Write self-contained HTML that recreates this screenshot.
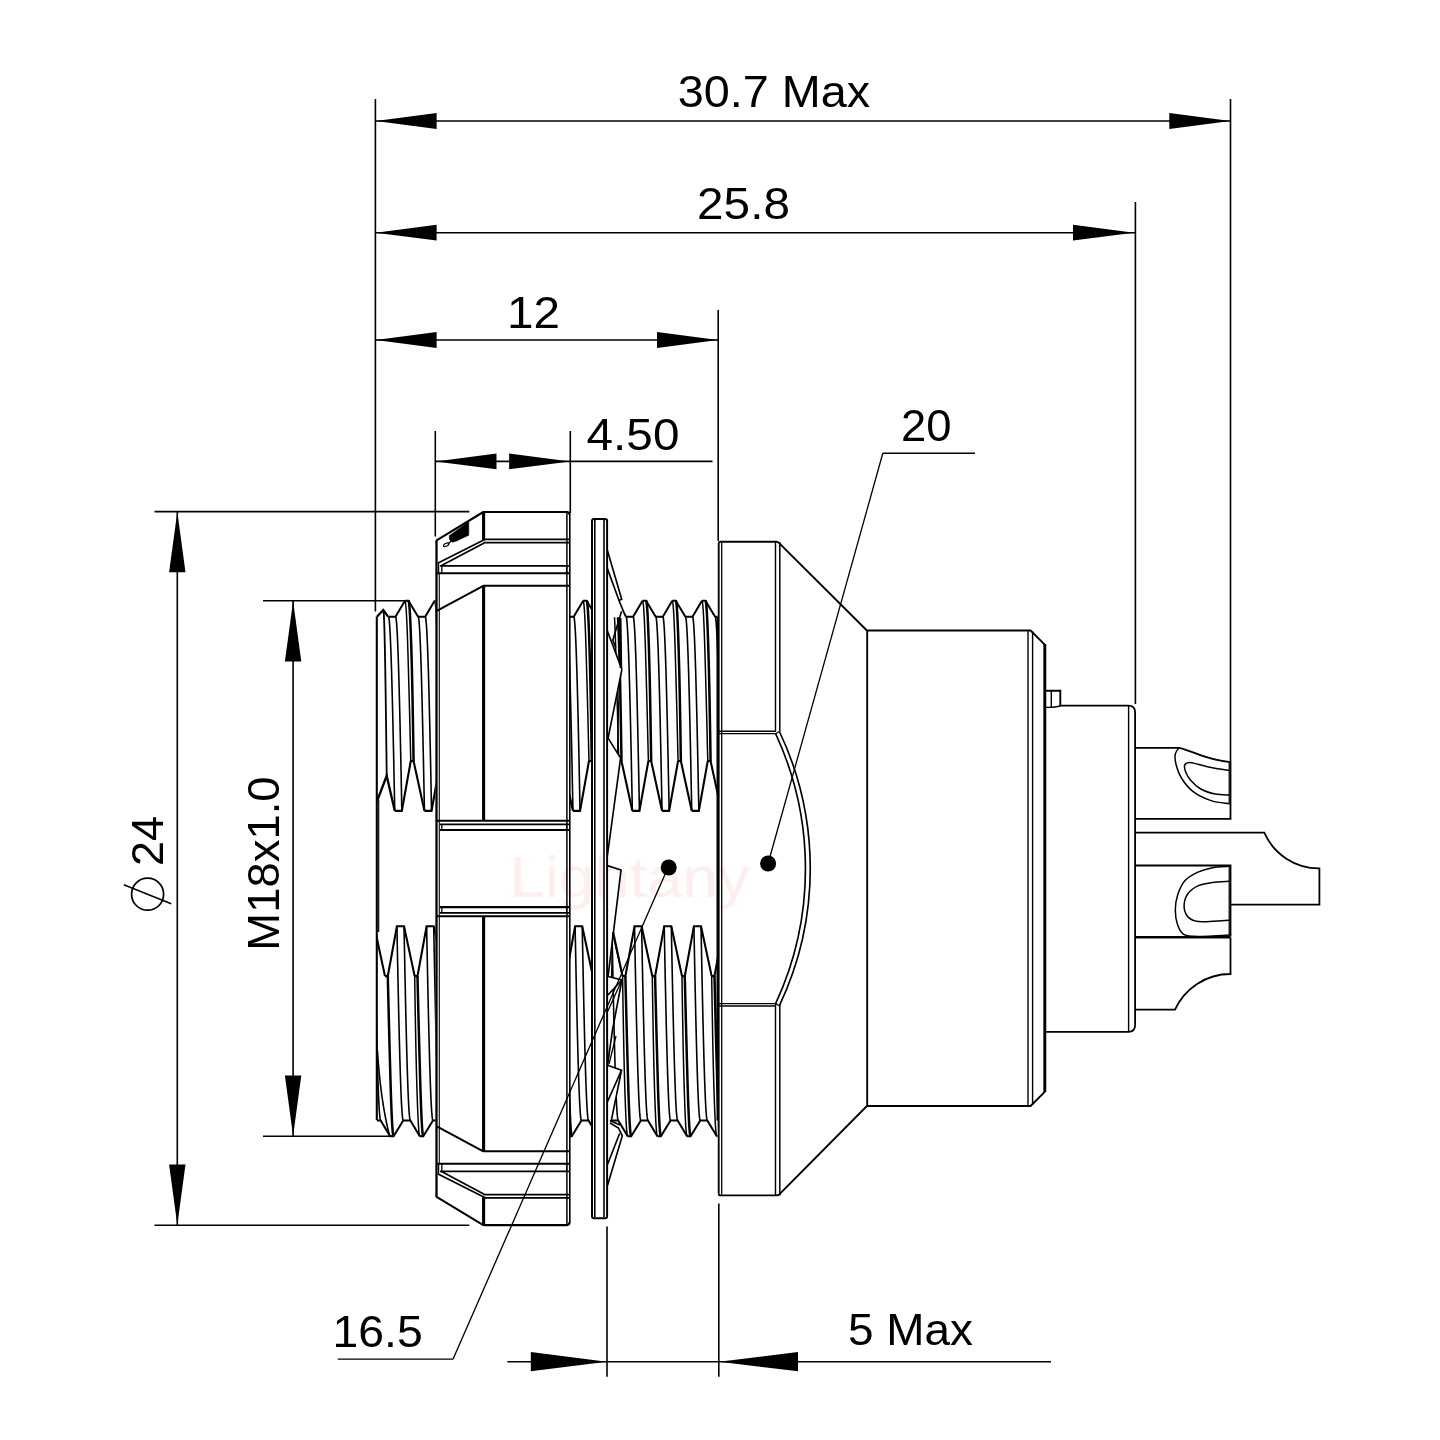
<!DOCTYPE html>
<html><head><meta charset="utf-8"><title>Connector drawing</title>
<style>
html,body{margin:0;padding:0;background:#fff;}
body{width:1440px;height:1440px;overflow:hidden;}
svg{display:block;font-family:"Liberation Sans",sans-serif;}
svg *{stroke-linecap:butt;stroke-linejoin:miter;}
</style></head><body>
<svg width="1440" height="1440" viewBox="0 0 1440 1440" stroke="#000" fill="none">
<rect x="0" y="0" width="1440" height="1440" fill="#fff" stroke="none"/>
<defs>
<clipPath id="cpA"><rect x="377" y="590" width="59.5" height="560"/></clipPath>
<clipPath id="cpB"><rect x="570" y="590" width="22" height="560"/></clipPath>
<clipPath id="cpC"><rect x="607.3" y="590" width="110.2" height="560"/></clipPath>
</defs>
<g clip-path="url(#cpA)">
<path d="M315.85 600.8 L316.03 601 L316.21 601.6 L316.4 602.59 L316.58 603.98 L316.76 605.77 L316.94 607.94 L317.13 610.51 L317.31 613.45 L317.49 616.78 L317.67 620.48 L317.86 624.55 L318.04 628.99 L318.22 633.78 L318.4 638.92 L318.59 644.4 L318.77 650.22 L318.95 656.36 L319.13 662.81 L319.32 669.57 L319.52 676.63 L319.72 683.98 L319.93 691.6 L320.14 699.48 L320.35 707.61 L320.57 715.99 L320.78 724.59 L321 733.4 L321.22 742.42 L321.45 751.62 L321.67 761" stroke-width="1.5" fill="none"/>
<path d="M325.58 976.1 L325.72 985.48 L325.86 994.68 L326 1003.7 L326.15 1012.51 L326.3 1021.11 L326.45 1029.49 L326.6 1037.62 L326.76 1045.5 L326.91 1053.12 L327.08 1060.47 L327.24 1067.53 L327.42 1074.29 L327.6 1080.74 L327.78 1086.88 L327.96 1092.7 L328.15 1098.18 L328.33 1103.32 L328.51 1108.11 L328.69 1112.55 L328.88 1116.62 L329.06 1120.32 L329.24 1123.65 L329.42 1126.59 L329.61 1129.16 L329.79 1131.33 L329.97 1133.12 L330.15 1134.51 L330.34 1135.5 L330.52 1136.1 L330.7 1136.3" stroke-width="1.5" fill="none"/>
<path d="M319.35 600.8 L319.53 601 L319.71 601.6 L319.9 602.59 L320.08 603.98 L320.26 605.77 L320.44 607.94 L320.63 610.51 L320.81 613.45 L320.99 616.78 L321.17 620.48 L321.36 624.55 L321.54 628.99 L321.72 633.78 L321.9 638.92 L322.09 644.4 L322.27 650.22 L322.45 656.36 L322.63 662.81 L322.81 669.57 L322.97 676.63 L323.14 683.98 L323.29 691.6 L323.45 699.48 L323.6 707.61 L323.75 715.99 L323.9 724.59 L324.05 733.4 L324.19 742.42 L324.33 751.62 L324.47 761" stroke-width="2.5" fill="none"/>
<path d="M328.38 976.1 L328.6 985.48 L328.83 994.68 L329.05 1003.7 L329.27 1012.51 L329.48 1021.11 L329.7 1029.49 L329.91 1037.62 L330.12 1045.5 L330.33 1053.12 L330.53 1060.47 L330.73 1067.53 L330.92 1074.29 L331.1 1080.74 L331.28 1086.88 L331.46 1092.7 L331.65 1098.18 L331.83 1103.32 L332.01 1108.11 L332.19 1112.55 L332.38 1116.62 L332.56 1120.32 L332.74 1123.65 L332.92 1126.59 L333.11 1129.16 L333.29 1131.33 L333.47 1133.12 L333.65 1134.51 L333.84 1135.5 L334.02 1136.1 L334.2 1136.3" stroke-width="2.5" fill="none"/>
<path d="M329 616.65 L329.26 617.04 L329.53 618.22 L329.79 620.17 L330.06 622.9 L330.32 626.4 L330.58 630.65 L330.85 635.64 L331.11 641.35 L331.37 647.77 L331.64 654.88 L331.9 662.66 L332.17 671.08 L332.43 680.11 L332.69 689.73 L332.96 699.91 L333.22 710.61 L333.49 721.8 L333.75 733.45 L334.01 745.52 L334.28 757.98 L334.54 770.78 L334.8 783.88 L335.07 797.25 L335.33 810.84" stroke-width="1.6" fill="none"/>
<path d="M337.52 926.26 L337.78 939.85 L338.05 953.22 L338.31 966.32 L338.57 979.12 L338.84 991.58 L339.1 1003.65 L339.36 1015.3 L339.63 1026.49 L339.89 1037.19 L340.16 1047.37 L340.42 1056.99 L340.68 1066.02 L340.95 1074.44 L341.21 1082.22 L341.48 1089.33 L341.74 1095.75 L342 1101.46 L342.27 1106.45 L342.53 1110.7 L342.79 1114.2 L343.06 1116.93 L343.32 1118.88 L343.59 1120.06 L343.85 1120.45" stroke-width="1.6" fill="none"/>
<path d="M336.1 616.65 L336.36 617.04 L336.63 618.22 L336.89 620.17 L337.16 622.9 L337.42 626.4 L337.68 630.65 L337.95 635.64 L338.21 641.35 L338.47 647.77 L338.74 654.88 L339 662.66 L339.27 671.08 L339.53 680.11 L339.79 689.73 L340.06 699.91 L340.32 710.61 L340.59 721.8 L340.85 733.45 L341.11 745.52 L341.38 757.98 L341.64 770.78 L341.9 783.88 L342.17 797.25 L342.43 810.84" stroke-width="1.6" fill="none"/>
<path d="M344.62 926.26 L344.88 939.85 L345.15 953.22 L345.41 966.32 L345.67 979.12 L345.94 991.58 L346.2 1003.65 L346.46 1015.3 L346.73 1026.49 L346.99 1037.19 L347.26 1047.37 L347.52 1056.99 L347.78 1066.02 L348.05 1074.44 L348.31 1082.22 L348.58 1089.33 L348.84 1095.75 L349.1 1101.46 L349.37 1106.45 L349.63 1110.7 L349.89 1114.2 L350.16 1116.93 L350.42 1118.88 L350.69 1120.06 L350.95 1120.45" stroke-width="1.6" fill="none"/>
<path d="M315.85 600.8 L319.35 600.8 L329 616.65" stroke-width="2" fill="none"/>
<path d="M321.67 761 L324.47 761 L335.33 810.84" stroke-width="2.1" fill="none"/>
<path d="M329 616.65 L336.1 616.65 L345.55 600.8" stroke-width="2" fill="none"/>
<path d="M335.33 810.84 L342.43 810.84 L351.37 761" stroke-width="2.1" fill="none"/>
<path d="M330.7 1136.3 L334.2 1136.3 L343.85 1120.45 L350.95 1120.45 L360.4 1136.3" stroke-width="2" fill="none"/>
<path d="M325.58 976.1 L328.38 976.1 L337.52 926.26 L344.62 926.26 L355.28 976.1" stroke-width="2.1" fill="none"/>
<path d="M345.55 600.8 L345.73 601 L345.91 601.6 L346.1 602.59 L346.28 603.98 L346.46 605.77 L346.64 607.94 L346.83 610.51 L347.01 613.45 L347.19 616.78 L347.37 620.48 L347.56 624.55 L347.74 628.99 L347.92 633.78 L348.1 638.92 L348.29 644.4 L348.47 650.22 L348.65 656.36 L348.83 662.81 L349.02 669.57 L349.22 676.63 L349.42 683.98 L349.63 691.6 L349.84 699.48 L350.05 707.61 L350.27 715.99 L350.48 724.59 L350.7 733.4 L350.92 742.42 L351.15 751.62 L351.37 761" stroke-width="1.5" fill="none"/>
<path d="M355.28 976.1 L355.42 985.48 L355.56 994.68 L355.7 1003.7 L355.85 1012.51 L356 1021.11 L356.15 1029.49 L356.3 1037.62 L356.46 1045.5 L356.61 1053.12 L356.78 1060.47 L356.94 1067.53 L357.12 1074.29 L357.3 1080.74 L357.48 1086.88 L357.66 1092.7 L357.85 1098.18 L358.03 1103.32 L358.21 1108.11 L358.39 1112.55 L358.58 1116.62 L358.76 1120.32 L358.94 1123.65 L359.12 1126.59 L359.31 1129.16 L359.49 1131.33 L359.67 1133.12 L359.85 1134.51 L360.04 1135.5 L360.22 1136.1 L360.4 1136.3" stroke-width="1.5" fill="none"/>
<path d="M349.05 600.8 L349.23 601 L349.41 601.6 L349.6 602.59 L349.78 603.98 L349.96 605.77 L350.14 607.94 L350.33 610.51 L350.51 613.45 L350.69 616.78 L350.87 620.48 L351.06 624.55 L351.24 628.99 L351.42 633.78 L351.6 638.92 L351.79 644.4 L351.97 650.22 L352.15 656.36 L352.33 662.81 L352.51 669.57 L352.67 676.63 L352.84 683.98 L352.99 691.6 L353.15 699.48 L353.3 707.61 L353.45 715.99 L353.6 724.59 L353.75 733.4 L353.89 742.42 L354.03 751.62 L354.17 761" stroke-width="2.5" fill="none"/>
<path d="M358.08 976.1 L358.3 985.48 L358.53 994.68 L358.75 1003.7 L358.97 1012.51 L359.18 1021.11 L359.4 1029.49 L359.61 1037.62 L359.82 1045.5 L360.03 1053.12 L360.23 1060.47 L360.43 1067.53 L360.62 1074.29 L360.8 1080.74 L360.98 1086.88 L361.16 1092.7 L361.35 1098.18 L361.53 1103.32 L361.71 1108.11 L361.89 1112.55 L362.08 1116.62 L362.26 1120.32 L362.44 1123.65 L362.62 1126.59 L362.81 1129.16 L362.99 1131.33 L363.17 1133.12 L363.35 1134.51 L363.54 1135.5 L363.72 1136.1 L363.9 1136.3" stroke-width="2.5" fill="none"/>
<path d="M358.7 616.65 L358.96 617.04 L359.23 618.22 L359.49 620.17 L359.76 622.9 L360.02 626.4 L360.28 630.65 L360.55 635.64 L360.81 641.35 L361.07 647.77 L361.34 654.88 L361.6 662.66 L361.87 671.08 L362.13 680.11 L362.39 689.73 L362.66 699.91 L362.92 710.61 L363.19 721.8 L363.45 733.45 L363.71 745.52 L363.98 757.98 L364.24 770.78 L364.5 783.88 L364.77 797.25 L365.03 810.84" stroke-width="1.6" fill="none"/>
<path d="M367.22 926.26 L367.48 939.85 L367.75 953.22 L368.01 966.32 L368.27 979.12 L368.54 991.58 L368.8 1003.65 L369.06 1015.3 L369.33 1026.49 L369.59 1037.19 L369.86 1047.37 L370.12 1056.99 L370.38 1066.02 L370.65 1074.44 L370.91 1082.22 L371.18 1089.33 L371.44 1095.75 L371.7 1101.46 L371.97 1106.45 L372.23 1110.7 L372.49 1114.2 L372.76 1116.93 L373.02 1118.88 L373.29 1120.06 L373.55 1120.45" stroke-width="1.6" fill="none"/>
<path d="M365.8 616.65 L366.06 617.04 L366.33 618.22 L366.59 620.17 L366.86 622.9 L367.12 626.4 L367.38 630.65 L367.65 635.64 L367.91 641.35 L368.17 647.77 L368.44 654.88 L368.7 662.66 L368.97 671.08 L369.23 680.11 L369.49 689.73 L369.76 699.91 L370.02 710.61 L370.29 721.8 L370.55 733.45 L370.81 745.52 L371.08 757.98 L371.34 770.78 L371.6 783.88 L371.87 797.25 L372.13 810.84" stroke-width="1.6" fill="none"/>
<path d="M374.32 926.26 L374.58 939.85 L374.85 953.22 L375.11 966.32 L375.37 979.12 L375.64 991.58 L375.9 1003.65 L376.16 1015.3 L376.43 1026.49 L376.69 1037.19 L376.96 1047.37 L377.22 1056.99 L377.48 1066.02 L377.75 1074.44 L378.01 1082.22 L378.28 1089.33 L378.54 1095.75 L378.8 1101.46 L379.07 1106.45 L379.33 1110.7 L379.59 1114.2 L379.86 1116.93 L380.12 1118.88 L380.39 1120.06 L380.65 1120.45" stroke-width="1.6" fill="none"/>
<path d="M345.55 600.8 L349.05 600.8 L358.7 616.65" stroke-width="2" fill="none"/>
<path d="M351.37 761 L354.17 761 L365.03 810.84" stroke-width="2.1" fill="none"/>
<path d="M360.4 1136.3 L363.9 1136.3 L373.55 1120.45 L380.65 1120.45 L390.1 1136.3" stroke-width="2" fill="none"/>
<path d="M355.28 976.1 L358.08 976.1 L367.22 926.26 L374.32 926.26 L384.98 976.1" stroke-width="2.1" fill="none"/>
<path d="M387.78 976.1 L388 985.48 L388.23 994.68 L388.45 1003.7 L388.67 1012.51 L388.88 1021.11 L389.1 1029.49 L389.31 1037.62 L389.52 1045.5 L389.73 1053.12 L389.93 1060.47 L390.13 1067.53 L390.32 1074.29 L390.5 1080.74 L390.68 1086.88 L390.86 1092.7 L391.05 1098.18 L391.23 1103.32 L391.41 1108.11 L391.59 1112.55 L391.78 1116.62 L391.96 1120.32 L392.14 1123.65 L392.32 1126.59 L392.51 1129.16 L392.69 1131.33 L392.87 1133.12 L393.05 1134.51 L393.24 1135.5 L393.42 1136.1 L393.6 1136.3" stroke-width="2.5" fill="none"/>
<path d="M388.4 616.65 L388.66 617.04 L388.93 618.22 L389.19 620.17 L389.46 622.9 L389.72 626.4 L389.98 630.65 L390.25 635.64 L390.51 641.35 L390.77 647.77 L391.04 654.88 L391.3 662.66 L391.57 671.08 L391.83 680.11 L392.09 689.73 L392.36 699.91 L392.62 710.61 L392.89 721.8 L393.15 733.45 L393.41 745.52 L393.68 757.98 L393.94 770.78 L394.2 783.88 L394.47 797.25 L394.73 810.84" stroke-width="1.6" fill="none"/>
<path d="M396.92 926.26 L397.18 939.85 L397.45 953.22 L397.71 966.32 L397.97 979.12 L398.24 991.58 L398.5 1003.65 L398.76 1015.3 L399.03 1026.49 L399.29 1037.19 L399.56 1047.37 L399.82 1056.99 L400.08 1066.02 L400.35 1074.44 L400.61 1082.22 L400.88 1089.33 L401.14 1095.75 L401.4 1101.46 L401.67 1106.45 L401.93 1110.7 L402.19 1114.2 L402.46 1116.93 L402.72 1118.88 L402.99 1120.06 L403.25 1120.45" stroke-width="1.6" fill="none"/>
<path d="M395.5 616.65 L395.76 617.04 L396.03 618.22 L396.29 620.17 L396.56 622.9 L396.82 626.4 L397.08 630.65 L397.35 635.64 L397.61 641.35 L397.87 647.77 L398.14 654.88 L398.4 662.66 L398.67 671.08 L398.93 680.11 L399.19 689.73 L399.46 699.91 L399.72 710.61 L399.99 721.8 L400.25 733.45 L400.51 745.52 L400.78 757.98 L401.04 770.78 L401.3 783.88 L401.57 797.25 L401.83 810.84" stroke-width="1.6" fill="none"/>
<path d="M404.02 926.26 L404.28 939.85 L404.55 953.22 L404.81 966.32 L405.07 979.12 L405.34 991.58 L405.6 1003.65 L405.86 1015.3 L406.13 1026.49 L406.39 1037.19 L406.66 1047.37 L406.92 1056.99 L407.18 1066.02 L407.45 1074.44 L407.71 1082.22 L407.98 1089.33 L408.24 1095.75 L408.5 1101.46 L408.77 1106.45 L409.03 1110.7 L409.29 1114.2 L409.56 1116.93 L409.82 1118.88 L410.09 1120.06 L410.35 1120.45" stroke-width="1.6" fill="none"/>
<path d="M388.4 616.65 L395.5 616.65 L404.95 600.8" stroke-width="2" fill="none"/>
<path d="M394.73 810.84 L401.83 810.84 L410.77 761" stroke-width="2.1" fill="none"/>
<path d="M390.1 1136.3 L393.6 1136.3 L403.25 1120.45 L410.35 1120.45 L419.8 1136.3" stroke-width="2" fill="none"/>
<path d="M384.98 976.1 L387.78 976.1 L396.92 926.26 L404.02 926.26 L414.68 976.1" stroke-width="2.1" fill="none"/>
<path d="M404.95 600.8 L405.13 601 L405.31 601.6 L405.5 602.59 L405.68 603.98 L405.86 605.77 L406.04 607.94 L406.23 610.51 L406.41 613.45 L406.59 616.78 L406.77 620.48 L406.96 624.55 L407.14 628.99 L407.32 633.78 L407.5 638.92 L407.69 644.4 L407.87 650.22 L408.05 656.36 L408.23 662.81 L408.42 669.57 L408.62 676.63 L408.82 683.98 L409.03 691.6 L409.24 699.48 L409.45 707.61 L409.67 715.99 L409.88 724.59 L410.1 733.4 L410.32 742.42 L410.55 751.62 L410.77 761" stroke-width="1.5" fill="none"/>
<path d="M414.68 976.1 L414.82 985.48 L414.96 994.68 L415.1 1003.7 L415.25 1012.51 L415.4 1021.11 L415.55 1029.49 L415.7 1037.62 L415.86 1045.5 L416.01 1053.12 L416.18 1060.47 L416.34 1067.53 L416.52 1074.29 L416.7 1080.74 L416.88 1086.88 L417.06 1092.7 L417.25 1098.18 L417.43 1103.32 L417.61 1108.11 L417.79 1112.55 L417.98 1116.62 L418.16 1120.32 L418.34 1123.65 L418.52 1126.59 L418.71 1129.16 L418.89 1131.33 L419.07 1133.12 L419.25 1134.51 L419.44 1135.5 L419.62 1136.1 L419.8 1136.3" stroke-width="1.5" fill="none"/>
<path d="M408.45 600.8 L408.63 601 L408.81 601.6 L409 602.59 L409.18 603.98 L409.36 605.77 L409.54 607.94 L409.73 610.51 L409.91 613.45 L410.09 616.78 L410.27 620.48 L410.46 624.55 L410.64 628.99 L410.82 633.78 L411 638.92 L411.19 644.4 L411.37 650.22 L411.55 656.36 L411.73 662.81 L411.91 669.57 L412.07 676.63 L412.24 683.98 L412.39 691.6 L412.55 699.48 L412.7 707.61 L412.85 715.99 L413 724.59 L413.15 733.4 L413.29 742.42 L413.43 751.62 L413.57 761" stroke-width="2.5" fill="none"/>
<path d="M417.48 976.1 L417.7 985.48 L417.93 994.68 L418.15 1003.7 L418.37 1012.51 L418.58 1021.11 L418.8 1029.49 L419.01 1037.62 L419.22 1045.5 L419.43 1053.12 L419.63 1060.47 L419.83 1067.53 L420.02 1074.29 L420.2 1080.74 L420.38 1086.88 L420.56 1092.7 L420.75 1098.18 L420.93 1103.32 L421.11 1108.11 L421.29 1112.55 L421.48 1116.62 L421.66 1120.32 L421.84 1123.65 L422.02 1126.59 L422.21 1129.16 L422.39 1131.33 L422.57 1133.12 L422.75 1134.51 L422.94 1135.5 L423.12 1136.1 L423.3 1136.3" stroke-width="2.5" fill="none"/>
<path d="M418.1 616.65 L418.36 617.04 L418.63 618.22 L418.89 620.17 L419.16 622.9 L419.42 626.4 L419.68 630.65 L419.95 635.64 L420.21 641.35 L420.47 647.77 L420.74 654.88 L421 662.66 L421.27 671.08 L421.53 680.11 L421.79 689.73 L422.06 699.91 L422.32 710.61 L422.59 721.8 L422.85 733.45 L423.11 745.52 L423.38 757.98 L423.64 770.78 L423.9 783.88 L424.17 797.25 L424.43 810.84" stroke-width="1.6" fill="none"/>
<path d="M426.62 926.26 L426.88 939.85 L427.15 953.22 L427.41 966.32 L427.67 979.12 L427.94 991.58 L428.2 1003.65 L428.46 1015.3 L428.73 1026.49 L428.99 1037.19 L429.26 1047.37 L429.52 1056.99 L429.78 1066.02 L430.05 1074.44 L430.31 1082.22 L430.58 1089.33 L430.84 1095.75 L431.1 1101.46 L431.37 1106.45 L431.63 1110.7 L431.89 1114.2 L432.16 1116.93 L432.42 1118.88 L432.69 1120.06 L432.95 1120.45" stroke-width="1.6" fill="none"/>
<path d="M425.2 616.65 L425.46 617.04 L425.73 618.22 L425.99 620.17 L426.26 622.9 L426.52 626.4 L426.78 630.65 L427.05 635.64 L427.31 641.35 L427.57 647.77 L427.84 654.88 L428.1 662.66 L428.37 671.08 L428.63 680.11 L428.89 689.73 L429.16 699.91 L429.42 710.61 L429.69 721.8 L429.95 733.45 L430.21 745.52 L430.48 757.98 L430.74 770.78 L431 783.88 L431.27 797.25 L431.53 810.84" stroke-width="1.6" fill="none"/>
<path d="M433.72 926.26 L433.98 939.85 L434.25 953.22 L434.51 966.32 L434.77 979.12 L435.04 991.58 L435.3 1003.65 L435.56 1015.3 L435.83 1026.49 L436.09 1037.19 L436.36 1047.37 L436.62 1056.99 L436.88 1066.02 L437.15 1074.44 L437.41 1082.22 L437.68 1089.33 L437.94 1095.75 L438.2 1101.46 L438.47 1106.45 L438.73 1110.7 L438.99 1114.2 L439.26 1116.93 L439.52 1118.88 L439.79 1120.06 L440.05 1120.45" stroke-width="1.6" fill="none"/>
<path d="M404.95 600.8 L408.45 600.8 L418.1 616.65" stroke-width="2" fill="none"/>
<path d="M410.77 761 L413.57 761 L424.43 810.84" stroke-width="2.1" fill="none"/>
<path d="M418.1 616.65 L425.2 616.65 L434.65 600.8" stroke-width="2" fill="none"/>
<path d="M424.43 810.84 L431.53 810.84 L440.47 761" stroke-width="2.1" fill="none"/>
<path d="M419.8 1136.3 L423.3 1136.3 L432.95 1120.45 L440.05 1120.45 L449.5 1136.3" stroke-width="2" fill="none"/>
<path d="M414.68 976.1 L417.48 976.1 L426.62 926.26 L433.72 926.26 L444.38 976.1" stroke-width="2.1" fill="none"/>
<path d="M434.65 600.8 L434.83 601 L435.01 601.6 L435.2 602.59 L435.38 603.98 L435.56 605.77 L435.74 607.94 L435.93 610.51 L436.11 613.45 L436.29 616.78 L436.47 620.48 L436.66 624.55 L436.84 628.99 L437.02 633.78 L437.2 638.92 L437.39 644.4 L437.57 650.22 L437.75 656.36 L437.93 662.81 L438.12 669.57 L438.32 676.63 L438.52 683.98 L438.73 691.6 L438.94 699.48 L439.15 707.61 L439.37 715.99 L439.58 724.59 L439.8 733.4 L440.02 742.42 L440.25 751.62 L440.47 761" stroke-width="1.5" fill="none"/>
<path d="M444.38 976.1 L444.52 985.48 L444.66 994.68 L444.8 1003.7 L444.95 1012.51 L445.1 1021.11 L445.25 1029.49 L445.4 1037.62 L445.56 1045.5 L445.71 1053.12 L445.88 1060.47 L446.04 1067.53 L446.22 1074.29 L446.4 1080.74 L446.58 1086.88 L446.76 1092.7 L446.95 1098.18 L447.13 1103.32 L447.31 1108.11 L447.49 1112.55 L447.68 1116.62 L447.86 1120.32 L448.04 1123.65 L448.22 1126.59 L448.41 1129.16 L448.59 1131.33 L448.77 1133.12 L448.95 1134.51 L449.14 1135.5 L449.32 1136.1 L449.5 1136.3" stroke-width="1.5" fill="none"/>
<path d="M438.15 600.8 L438.33 601 L438.51 601.6 L438.7 602.59 L438.88 603.98 L439.06 605.77 L439.24 607.94 L439.43 610.51 L439.61 613.45 L439.79 616.78 L439.97 620.48 L440.16 624.55 L440.34 628.99 L440.52 633.78 L440.7 638.92 L440.89 644.4 L441.07 650.22 L441.25 656.36 L441.43 662.81 L441.61 669.57 L441.77 676.63 L441.94 683.98 L442.09 691.6 L442.25 699.48 L442.4 707.61 L442.55 715.99 L442.7 724.59 L442.85 733.4 L442.99 742.42 L443.13 751.62 L443.27 761" stroke-width="2.5" fill="none"/>
<path d="M447.18 976.1 L447.4 985.48 L447.63 994.68 L447.85 1003.7 L448.07 1012.51 L448.28 1021.11 L448.5 1029.49 L448.71 1037.62 L448.92 1045.5 L449.13 1053.12 L449.33 1060.47 L449.53 1067.53 L449.72 1074.29 L449.9 1080.74 L450.08 1086.88 L450.26 1092.7 L450.45 1098.18 L450.63 1103.32 L450.81 1108.11 L450.99 1112.55 L451.18 1116.62 L451.36 1120.32 L451.54 1123.65 L451.72 1126.59 L451.91 1129.16 L452.09 1131.33 L452.27 1133.12 L452.45 1134.51 L452.64 1135.5 L452.82 1136.1 L453 1136.3" stroke-width="2.5" fill="none"/>
<path d="M447.8 616.65 L448.06 617.04 L448.33 618.22 L448.59 620.17 L448.86 622.9 L449.12 626.4 L449.38 630.65 L449.65 635.64 L449.91 641.35 L450.17 647.77 L450.44 654.88 L450.7 662.66 L450.97 671.08 L451.23 680.11 L451.49 689.73 L451.76 699.91 L452.02 710.61 L452.29 721.8 L452.55 733.45 L452.81 745.52 L453.08 757.98 L453.34 770.78 L453.6 783.88 L453.87 797.25 L454.13 810.84" stroke-width="1.6" fill="none"/>
<path d="M456.32 926.26 L456.58 939.85 L456.85 953.22 L457.11 966.32 L457.37 979.12 L457.64 991.58 L457.9 1003.65 L458.16 1015.3 L458.43 1026.49 L458.69 1037.19 L458.96 1047.37 L459.22 1056.99 L459.48 1066.02 L459.75 1074.44 L460.01 1082.22 L460.28 1089.33 L460.54 1095.75 L460.8 1101.46 L461.07 1106.45 L461.33 1110.7 L461.59 1114.2 L461.86 1116.93 L462.12 1118.88 L462.39 1120.06 L462.65 1120.45" stroke-width="1.6" fill="none"/>
<path d="M454.9 616.65 L455.16 617.04 L455.43 618.22 L455.69 620.17 L455.96 622.9 L456.22 626.4 L456.48 630.65 L456.75 635.64 L457.01 641.35 L457.27 647.77 L457.54 654.88 L457.8 662.66 L458.07 671.08 L458.33 680.11 L458.59 689.73 L458.86 699.91 L459.12 710.61 L459.39 721.8 L459.65 733.45 L459.91 745.52 L460.18 757.98 L460.44 770.78 L460.7 783.88 L460.97 797.25 L461.23 810.84" stroke-width="1.6" fill="none"/>
<path d="M463.42 926.26 L463.68 939.85 L463.95 953.22 L464.21 966.32 L464.47 979.12 L464.74 991.58 L465 1003.65 L465.26 1015.3 L465.53 1026.49 L465.79 1037.19 L466.06 1047.37 L466.32 1056.99 L466.58 1066.02 L466.85 1074.44 L467.11 1082.22 L467.38 1089.33 L467.64 1095.75 L467.9 1101.46 L468.17 1106.45 L468.43 1110.7 L468.69 1114.2 L468.96 1116.93 L469.22 1118.88 L469.49 1120.06 L469.75 1120.45" stroke-width="1.6" fill="none"/>
<path d="M434.65 600.8 L438.15 600.8 L447.8 616.65" stroke-width="2" fill="none"/>
<path d="M440.47 761 L443.27 761 L454.13 810.84" stroke-width="2.1" fill="none"/>
<path d="M447.8 616.65 L454.9 616.65 L464.35 600.8" stroke-width="2" fill="none"/>
<path d="M454.13 810.84 L461.23 810.84 L470.17 761" stroke-width="2.1" fill="none"/>
<path d="M449.5 1136.3 L453 1136.3 L462.65 1120.45 L469.75 1120.45 L479.2 1136.3" stroke-width="2" fill="none"/>
<path d="M444.38 976.1 L447.18 976.1 L456.32 926.26 L463.42 926.26 L474.08 976.1" stroke-width="2.1" fill="none"/>
<path d="M464.35 600.8 L464.53 601 L464.71 601.6 L464.9 602.59 L465.08 603.98 L465.26 605.77 L465.44 607.94 L465.63 610.51 L465.81 613.45 L465.99 616.78 L466.17 620.48 L466.36 624.55 L466.54 628.99 L466.72 633.78 L466.9 638.92 L467.09 644.4 L467.27 650.22 L467.45 656.36 L467.63 662.81 L467.82 669.57 L468.02 676.63 L468.22 683.98 L468.43 691.6 L468.64 699.48 L468.85 707.61 L469.07 715.99 L469.28 724.59 L469.5 733.4 L469.72 742.42 L469.95 751.62 L470.17 761" stroke-width="1.5" fill="none"/>
<path d="M474.08 976.1 L474.22 985.48 L474.36 994.68 L474.5 1003.7 L474.65 1012.51 L474.8 1021.11 L474.95 1029.49 L475.1 1037.62 L475.26 1045.5 L475.41 1053.12 L475.58 1060.47 L475.74 1067.53 L475.92 1074.29 L476.1 1080.74 L476.28 1086.88 L476.46 1092.7 L476.65 1098.18 L476.83 1103.32 L477.01 1108.11 L477.19 1112.55 L477.38 1116.62 L477.56 1120.32 L477.74 1123.65 L477.92 1126.59 L478.11 1129.16 L478.29 1131.33 L478.47 1133.12 L478.65 1134.51 L478.84 1135.5 L479.02 1136.1 L479.2 1136.3" stroke-width="1.5" fill="none"/>
<path d="M467.85 600.8 L468.03 601 L468.21 601.6 L468.4 602.59 L468.58 603.98 L468.76 605.77 L468.94 607.94 L469.13 610.51 L469.31 613.45 L469.49 616.78 L469.67 620.48 L469.86 624.55 L470.04 628.99 L470.22 633.78 L470.4 638.92 L470.59 644.4 L470.77 650.22 L470.95 656.36 L471.13 662.81 L471.31 669.57 L471.47 676.63 L471.64 683.98 L471.79 691.6 L471.95 699.48 L472.1 707.61 L472.25 715.99 L472.4 724.59 L472.55 733.4 L472.69 742.42 L472.83 751.62 L472.97 761" stroke-width="2.5" fill="none"/>
<path d="M476.88 976.1 L477.1 985.48 L477.33 994.68 L477.55 1003.7 L477.77 1012.51 L477.98 1021.11 L478.2 1029.49 L478.41 1037.62 L478.62 1045.5 L478.83 1053.12 L479.03 1060.47 L479.23 1067.53 L479.42 1074.29 L479.6 1080.74 L479.78 1086.88 L479.96 1092.7 L480.15 1098.18 L480.33 1103.32 L480.51 1108.11 L480.69 1112.55 L480.88 1116.62 L481.06 1120.32 L481.24 1123.65 L481.42 1126.59 L481.61 1129.16 L481.79 1131.33 L481.97 1133.12 L482.15 1134.51 L482.34 1135.5 L482.52 1136.1 L482.7 1136.3" stroke-width="2.5" fill="none"/>
<path d="M477.5 616.65 L477.76 617.04 L478.03 618.22 L478.29 620.17 L478.56 622.9 L478.82 626.4 L479.08 630.65 L479.35 635.64 L479.61 641.35 L479.87 647.77 L480.14 654.88 L480.4 662.66 L480.67 671.08 L480.93 680.11 L481.19 689.73 L481.46 699.91 L481.72 710.61 L481.99 721.8 L482.25 733.45 L482.51 745.52 L482.78 757.98 L483.04 770.78 L483.3 783.88 L483.57 797.25 L483.83 810.84" stroke-width="1.6" fill="none"/>
<path d="M486.02 926.26 L486.28 939.85 L486.55 953.22 L486.81 966.32 L487.07 979.12 L487.34 991.58 L487.6 1003.65 L487.86 1015.3 L488.13 1026.49 L488.39 1037.19 L488.66 1047.37 L488.92 1056.99 L489.18 1066.02 L489.45 1074.44 L489.71 1082.22 L489.98 1089.33 L490.24 1095.75 L490.5 1101.46 L490.77 1106.45 L491.03 1110.7 L491.29 1114.2 L491.56 1116.93 L491.82 1118.88 L492.09 1120.06 L492.35 1120.45" stroke-width="1.6" fill="none"/>
<path d="M484.6 616.65 L484.86 617.04 L485.13 618.22 L485.39 620.17 L485.66 622.9 L485.92 626.4 L486.18 630.65 L486.45 635.64 L486.71 641.35 L486.97 647.77 L487.24 654.88 L487.5 662.66 L487.77 671.08 L488.03 680.11 L488.29 689.73 L488.56 699.91 L488.82 710.61 L489.09 721.8 L489.35 733.45 L489.61 745.52 L489.88 757.98 L490.14 770.78 L490.4 783.88 L490.67 797.25 L490.93 810.84" stroke-width="1.6" fill="none"/>
<path d="M493.12 926.26 L493.38 939.85 L493.65 953.22 L493.91 966.32 L494.17 979.12 L494.44 991.58 L494.7 1003.65 L494.96 1015.3 L495.23 1026.49 L495.49 1037.19 L495.76 1047.37 L496.02 1056.99 L496.28 1066.02 L496.55 1074.44 L496.81 1082.22 L497.08 1089.33 L497.34 1095.75 L497.6 1101.46 L497.87 1106.45 L498.13 1110.7 L498.39 1114.2 L498.66 1116.93 L498.92 1118.88 L499.19 1120.06 L499.45 1120.45" stroke-width="1.6" fill="none"/>
<path d="M464.35 600.8 L467.85 600.8 L477.5 616.65" stroke-width="2" fill="none"/>
<path d="M470.17 761 L472.97 761 L483.83 810.84" stroke-width="2.1" fill="none"/>
<path d="M477.5 616.65 L484.6 616.65 L494.05 600.8" stroke-width="2" fill="none"/>
<path d="M483.83 810.84 L490.93 810.84 L499.87 761" stroke-width="2.1" fill="none"/>
<path d="M479.2 1136.3 L482.7 1136.3 L492.35 1120.45 L499.45 1120.45 L508.9 1136.3" stroke-width="2" fill="none"/>
<path d="M474.08 976.1 L476.88 976.1 L486.02 926.26 L493.12 926.26 L503.78 976.1" stroke-width="2.1" fill="none"/>
<path d="M494.05 600.8 L494.23 601 L494.41 601.6 L494.6 602.59 L494.78 603.98 L494.96 605.77 L495.14 607.94 L495.33 610.51 L495.51 613.45 L495.69 616.78 L495.87 620.48 L496.06 624.55 L496.24 628.99 L496.42 633.78 L496.6 638.92 L496.79 644.4 L496.97 650.22 L497.15 656.36 L497.33 662.81 L497.52 669.57 L497.72 676.63 L497.92 683.98 L498.13 691.6 L498.34 699.48 L498.55 707.61 L498.77 715.99 L498.98 724.59 L499.2 733.4 L499.42 742.42 L499.65 751.62 L499.87 761" stroke-width="1.5" fill="none"/>
<path d="M503.78 976.1 L503.92 985.48 L504.06 994.68 L504.2 1003.7 L504.35 1012.51 L504.5 1021.11 L504.65 1029.49 L504.8 1037.62 L504.96 1045.5 L505.11 1053.12 L505.28 1060.47 L505.44 1067.53 L505.62 1074.29 L505.8 1080.74 L505.98 1086.88 L506.16 1092.7 L506.35 1098.18 L506.53 1103.32 L506.71 1108.11 L506.89 1112.55 L507.08 1116.62 L507.26 1120.32 L507.44 1123.65 L507.62 1126.59 L507.81 1129.16 L507.99 1131.33 L508.17 1133.12 L508.35 1134.51 L508.54 1135.5 L508.72 1136.1 L508.9 1136.3" stroke-width="1.5" fill="none"/>
<path d="M497.55 600.8 L497.73 601 L497.91 601.6 L498.1 602.59 L498.28 603.98 L498.46 605.77 L498.64 607.94 L498.83 610.51 L499.01 613.45 L499.19 616.78 L499.37 620.48 L499.56 624.55 L499.74 628.99 L499.92 633.78 L500.1 638.92 L500.29 644.4 L500.47 650.22 L500.65 656.36 L500.83 662.81 L501.01 669.57 L501.17 676.63 L501.34 683.98 L501.49 691.6 L501.65 699.48 L501.8 707.61 L501.95 715.99 L502.1 724.59 L502.25 733.4 L502.39 742.42 L502.53 751.62 L502.67 761" stroke-width="2.5" fill="none"/>
<path d="M506.58 976.1 L506.8 985.48 L507.03 994.68 L507.25 1003.7 L507.47 1012.51 L507.68 1021.11 L507.9 1029.49 L508.11 1037.62 L508.32 1045.5 L508.53 1053.12 L508.73 1060.47 L508.93 1067.53 L509.12 1074.29 L509.3 1080.74 L509.48 1086.88 L509.66 1092.7 L509.85 1098.18 L510.03 1103.32 L510.21 1108.11 L510.39 1112.55 L510.58 1116.62 L510.76 1120.32 L510.94 1123.65 L511.12 1126.59 L511.31 1129.16 L511.49 1131.33 L511.67 1133.12 L511.85 1134.51 L512.04 1135.5 L512.22 1136.1 L512.4 1136.3" stroke-width="2.5" fill="none"/>
<path d="M507.2 616.65 L507.46 617.04 L507.73 618.22 L507.99 620.17 L508.26 622.9 L508.52 626.4 L508.78 630.65 L509.05 635.64 L509.31 641.35 L509.57 647.77 L509.84 654.88 L510.1 662.66 L510.37 671.08 L510.63 680.11 L510.89 689.73 L511.16 699.91 L511.42 710.61 L511.69 721.8 L511.95 733.45 L512.21 745.52 L512.48 757.98 L512.74 770.78 L513 783.88 L513.27 797.25 L513.53 810.84" stroke-width="1.6" fill="none"/>
<path d="M515.72 926.26 L515.98 939.85 L516.25 953.22 L516.51 966.32 L516.77 979.12 L517.04 991.58 L517.3 1003.65 L517.56 1015.3 L517.83 1026.49 L518.09 1037.19 L518.36 1047.37 L518.62 1056.99 L518.88 1066.02 L519.15 1074.44 L519.41 1082.22 L519.68 1089.33 L519.94 1095.75 L520.2 1101.46 L520.47 1106.45 L520.73 1110.7 L520.99 1114.2 L521.26 1116.93 L521.52 1118.88 L521.79 1120.06 L522.05 1120.45" stroke-width="1.6" fill="none"/>
<path d="M514.3 616.65 L514.56 617.04 L514.83 618.22 L515.09 620.17 L515.36 622.9 L515.62 626.4 L515.88 630.65 L516.15 635.64 L516.41 641.35 L516.67 647.77 L516.94 654.88 L517.2 662.66 L517.47 671.08 L517.73 680.11 L517.99 689.73 L518.26 699.91 L518.52 710.61 L518.79 721.8 L519.05 733.45 L519.31 745.52 L519.58 757.98 L519.84 770.78 L520.1 783.88 L520.37 797.25 L520.63 810.84" stroke-width="1.6" fill="none"/>
<path d="M522.82 926.26 L523.08 939.85 L523.35 953.22 L523.61 966.32 L523.87 979.12 L524.14 991.58 L524.4 1003.65 L524.66 1015.3 L524.93 1026.49 L525.19 1037.19 L525.46 1047.37 L525.72 1056.99 L525.98 1066.02 L526.25 1074.44 L526.51 1082.22 L526.78 1089.33 L527.04 1095.75 L527.3 1101.46 L527.57 1106.45 L527.83 1110.7 L528.09 1114.2 L528.36 1116.93 L528.62 1118.88 L528.89 1120.06 L529.15 1120.45" stroke-width="1.6" fill="none"/>
<path d="M494.05 600.8 L497.55 600.8 L507.2 616.65" stroke-width="2" fill="none"/>
<path d="M499.87 761 L502.67 761 L513.53 810.84" stroke-width="2.1" fill="none"/>
<path d="M507.2 616.65 L514.3 616.65 L523.75 600.8" stroke-width="2" fill="none"/>
<path d="M513.53 810.84 L520.63 810.84 L529.57 761" stroke-width="2.1" fill="none"/>
<path d="M508.9 1136.3 L512.4 1136.3 L522.05 1120.45 L529.15 1120.45 L538.6 1136.3" stroke-width="2" fill="none"/>
<path d="M503.78 976.1 L506.58 976.1 L515.72 926.26 L522.82 926.26 L533.48 976.1" stroke-width="2.1" fill="none"/>
</g>
<g clip-path="url(#cpB)">
<path d="M494.05 600.8 L494.23 601 L494.41 601.6 L494.6 602.59 L494.78 603.98 L494.96 605.77 L495.14 607.94 L495.33 610.51 L495.51 613.45 L495.69 616.78 L495.87 620.48 L496.06 624.55 L496.24 628.99 L496.42 633.78 L496.6 638.92 L496.79 644.4 L496.97 650.22 L497.15 656.36 L497.33 662.81 L497.52 669.57 L497.72 676.63 L497.92 683.98 L498.13 691.6 L498.34 699.48 L498.55 707.61 L498.77 715.99 L498.98 724.59 L499.2 733.4 L499.42 742.42 L499.65 751.62 L499.87 761" stroke-width="1.5" fill="none"/>
<path d="M503.78 976.1 L503.92 985.48 L504.06 994.68 L504.2 1003.7 L504.35 1012.51 L504.5 1021.11 L504.65 1029.49 L504.8 1037.62 L504.96 1045.5 L505.11 1053.12 L505.28 1060.47 L505.44 1067.53 L505.62 1074.29 L505.8 1080.74 L505.98 1086.88 L506.16 1092.7 L506.35 1098.18 L506.53 1103.32 L506.71 1108.11 L506.89 1112.55 L507.08 1116.62 L507.26 1120.32 L507.44 1123.65 L507.62 1126.59 L507.81 1129.16 L507.99 1131.33 L508.17 1133.12 L508.35 1134.51 L508.54 1135.5 L508.72 1136.1 L508.9 1136.3" stroke-width="1.5" fill="none"/>
<path d="M497.55 600.8 L497.73 601 L497.91 601.6 L498.1 602.59 L498.28 603.98 L498.46 605.77 L498.64 607.94 L498.83 610.51 L499.01 613.45 L499.19 616.78 L499.37 620.48 L499.56 624.55 L499.74 628.99 L499.92 633.78 L500.1 638.92 L500.29 644.4 L500.47 650.22 L500.65 656.36 L500.83 662.81 L501.01 669.57 L501.17 676.63 L501.34 683.98 L501.49 691.6 L501.65 699.48 L501.8 707.61 L501.95 715.99 L502.1 724.59 L502.25 733.4 L502.39 742.42 L502.53 751.62 L502.67 761" stroke-width="2.5" fill="none"/>
<path d="M506.58 976.1 L506.8 985.48 L507.03 994.68 L507.25 1003.7 L507.47 1012.51 L507.68 1021.11 L507.9 1029.49 L508.11 1037.62 L508.32 1045.5 L508.53 1053.12 L508.73 1060.47 L508.93 1067.53 L509.12 1074.29 L509.3 1080.74 L509.48 1086.88 L509.66 1092.7 L509.85 1098.18 L510.03 1103.32 L510.21 1108.11 L510.39 1112.55 L510.58 1116.62 L510.76 1120.32 L510.94 1123.65 L511.12 1126.59 L511.31 1129.16 L511.49 1131.33 L511.67 1133.12 L511.85 1134.51 L512.04 1135.5 L512.22 1136.1 L512.4 1136.3" stroke-width="2.5" fill="none"/>
<path d="M507.2 616.65 L507.46 617.04 L507.73 618.22 L507.99 620.17 L508.26 622.9 L508.52 626.4 L508.78 630.65 L509.05 635.64 L509.31 641.35 L509.57 647.77 L509.84 654.88 L510.1 662.66 L510.37 671.08 L510.63 680.11 L510.89 689.73 L511.16 699.91 L511.42 710.61 L511.69 721.8 L511.95 733.45 L512.21 745.52 L512.48 757.98 L512.74 770.78 L513 783.88 L513.27 797.25 L513.53 810.84" stroke-width="1.6" fill="none"/>
<path d="M515.72 926.26 L515.98 939.85 L516.25 953.22 L516.51 966.32 L516.77 979.12 L517.04 991.58 L517.3 1003.65 L517.56 1015.3 L517.83 1026.49 L518.09 1037.19 L518.36 1047.37 L518.62 1056.99 L518.88 1066.02 L519.15 1074.44 L519.41 1082.22 L519.68 1089.33 L519.94 1095.75 L520.2 1101.46 L520.47 1106.45 L520.73 1110.7 L520.99 1114.2 L521.26 1116.93 L521.52 1118.88 L521.79 1120.06 L522.05 1120.45" stroke-width="1.6" fill="none"/>
<path d="M514.3 616.65 L514.56 617.04 L514.83 618.22 L515.09 620.17 L515.36 622.9 L515.62 626.4 L515.88 630.65 L516.15 635.64 L516.41 641.35 L516.67 647.77 L516.94 654.88 L517.2 662.66 L517.47 671.08 L517.73 680.11 L517.99 689.73 L518.26 699.91 L518.52 710.61 L518.79 721.8 L519.05 733.45 L519.31 745.52 L519.58 757.98 L519.84 770.78 L520.1 783.88 L520.37 797.25 L520.63 810.84" stroke-width="1.6" fill="none"/>
<path d="M522.82 926.26 L523.08 939.85 L523.35 953.22 L523.61 966.32 L523.87 979.12 L524.14 991.58 L524.4 1003.65 L524.66 1015.3 L524.93 1026.49 L525.19 1037.19 L525.46 1047.37 L525.72 1056.99 L525.98 1066.02 L526.25 1074.44 L526.51 1082.22 L526.78 1089.33 L527.04 1095.75 L527.3 1101.46 L527.57 1106.45 L527.83 1110.7 L528.09 1114.2 L528.36 1116.93 L528.62 1118.88 L528.89 1120.06 L529.15 1120.45" stroke-width="1.6" fill="none"/>
<path d="M494.05 600.8 L497.55 600.8 L507.2 616.65" stroke-width="2" fill="none"/>
<path d="M499.87 761 L502.67 761 L513.53 810.84" stroke-width="2.1" fill="none"/>
<path d="M507.2 616.65 L514.3 616.65 L523.75 600.8" stroke-width="2" fill="none"/>
<path d="M513.53 810.84 L520.63 810.84 L529.57 761" stroke-width="2.1" fill="none"/>
<path d="M508.9 1136.3 L512.4 1136.3 L522.05 1120.45 L529.15 1120.45 L538.6 1136.3" stroke-width="2" fill="none"/>
<path d="M503.78 976.1 L506.58 976.1 L515.72 926.26 L522.82 926.26 L533.48 976.1" stroke-width="2.1" fill="none"/>
<path d="M523.75 600.8 L523.93 601 L524.11 601.6 L524.3 602.59 L524.48 603.98 L524.66 605.77 L524.84 607.94 L525.03 610.51 L525.21 613.45 L525.39 616.78 L525.57 620.48 L525.76 624.55 L525.94 628.99 L526.12 633.78 L526.3 638.92 L526.49 644.4 L526.67 650.22 L526.85 656.36 L527.03 662.81 L527.22 669.57 L527.42 676.63 L527.62 683.98 L527.83 691.6 L528.04 699.48 L528.25 707.61 L528.47 715.99 L528.68 724.59 L528.9 733.4 L529.12 742.42 L529.35 751.62 L529.57 761" stroke-width="1.5" fill="none"/>
<path d="M533.48 976.1 L533.62 985.48 L533.76 994.68 L533.9 1003.7 L534.05 1012.51 L534.2 1021.11 L534.35 1029.49 L534.5 1037.62 L534.66 1045.5 L534.81 1053.12 L534.98 1060.47 L535.14 1067.53 L535.32 1074.29 L535.5 1080.74 L535.68 1086.88 L535.86 1092.7 L536.05 1098.18 L536.23 1103.32 L536.41 1108.11 L536.59 1112.55 L536.78 1116.62 L536.96 1120.32 L537.14 1123.65 L537.32 1126.59 L537.51 1129.16 L537.69 1131.33 L537.87 1133.12 L538.05 1134.51 L538.24 1135.5 L538.42 1136.1 L538.6 1136.3" stroke-width="1.5" fill="none"/>
<path d="M527.25 600.8 L527.43 601 L527.61 601.6 L527.8 602.59 L527.98 603.98 L528.16 605.77 L528.34 607.94 L528.53 610.51 L528.71 613.45 L528.89 616.78 L529.07 620.48 L529.26 624.55 L529.44 628.99 L529.62 633.78 L529.8 638.92 L529.99 644.4 L530.17 650.22 L530.35 656.36 L530.53 662.81 L530.71 669.57 L530.87 676.63 L531.04 683.98 L531.19 691.6 L531.35 699.48 L531.5 707.61 L531.65 715.99 L531.8 724.59 L531.95 733.4 L532.09 742.42 L532.23 751.62 L532.37 761" stroke-width="2.5" fill="none"/>
<path d="M536.28 976.1 L536.5 985.48 L536.73 994.68 L536.95 1003.7 L537.17 1012.51 L537.38 1021.11 L537.6 1029.49 L537.81 1037.62 L538.02 1045.5 L538.23 1053.12 L538.43 1060.47 L538.63 1067.53 L538.82 1074.29 L539 1080.74 L539.18 1086.88 L539.36 1092.7 L539.55 1098.18 L539.73 1103.32 L539.91 1108.11 L540.09 1112.55 L540.28 1116.62 L540.46 1120.32 L540.64 1123.65 L540.82 1126.59 L541.01 1129.16 L541.19 1131.33 L541.37 1133.12 L541.55 1134.51 L541.74 1135.5 L541.92 1136.1 L542.1 1136.3" stroke-width="2.5" fill="none"/>
<path d="M536.9 616.65 L537.16 617.04 L537.43 618.22 L537.69 620.17 L537.96 622.9 L538.22 626.4 L538.48 630.65 L538.75 635.64 L539.01 641.35 L539.27 647.77 L539.54 654.88 L539.8 662.66 L540.07 671.08 L540.33 680.11 L540.59 689.73 L540.86 699.91 L541.12 710.61 L541.39 721.8 L541.65 733.45 L541.91 745.52 L542.18 757.98 L542.44 770.78 L542.7 783.88 L542.97 797.25 L543.23 810.84" stroke-width="1.6" fill="none"/>
<path d="M545.42 926.26 L545.68 939.85 L545.95 953.22 L546.21 966.32 L546.47 979.12 L546.74 991.58 L547 1003.65 L547.26 1015.3 L547.53 1026.49 L547.79 1037.19 L548.06 1047.37 L548.32 1056.99 L548.58 1066.02 L548.85 1074.44 L549.11 1082.22 L549.38 1089.33 L549.64 1095.75 L549.9 1101.46 L550.17 1106.45 L550.43 1110.7 L550.69 1114.2 L550.96 1116.93 L551.22 1118.88 L551.49 1120.06 L551.75 1120.45" stroke-width="1.6" fill="none"/>
<path d="M544 616.65 L544.26 617.04 L544.53 618.22 L544.79 620.17 L545.06 622.9 L545.32 626.4 L545.58 630.65 L545.85 635.64 L546.11 641.35 L546.37 647.77 L546.64 654.88 L546.9 662.66 L547.17 671.08 L547.43 680.11 L547.69 689.73 L547.96 699.91 L548.22 710.61 L548.49 721.8 L548.75 733.45 L549.01 745.52 L549.28 757.98 L549.54 770.78 L549.8 783.88 L550.07 797.25 L550.33 810.84" stroke-width="1.6" fill="none"/>
<path d="M552.52 926.26 L552.78 939.85 L553.05 953.22 L553.31 966.32 L553.57 979.12 L553.84 991.58 L554.1 1003.65 L554.36 1015.3 L554.63 1026.49 L554.89 1037.19 L555.16 1047.37 L555.42 1056.99 L555.68 1066.02 L555.95 1074.44 L556.21 1082.22 L556.48 1089.33 L556.74 1095.75 L557 1101.46 L557.27 1106.45 L557.53 1110.7 L557.79 1114.2 L558.06 1116.93 L558.32 1118.88 L558.59 1120.06 L558.85 1120.45" stroke-width="1.6" fill="none"/>
<path d="M523.75 600.8 L527.25 600.8 L536.9 616.65" stroke-width="2" fill="none"/>
<path d="M529.57 761 L532.37 761 L543.23 810.84" stroke-width="2.1" fill="none"/>
<path d="M536.9 616.65 L544 616.65 L553.45 600.8" stroke-width="2" fill="none"/>
<path d="M543.23 810.84 L550.33 810.84 L559.27 761" stroke-width="2.1" fill="none"/>
<path d="M538.6 1136.3 L542.1 1136.3 L551.75 1120.45 L558.85 1120.45 L568.3 1136.3" stroke-width="2" fill="none"/>
<path d="M533.48 976.1 L536.28 976.1 L545.42 926.26 L552.52 926.26 L563.18 976.1" stroke-width="2.1" fill="none"/>
<path d="M553.45 600.8 L553.63 601 L553.81 601.6 L554 602.59 L554.18 603.98 L554.36 605.77 L554.54 607.94 L554.73 610.51 L554.91 613.45 L555.09 616.78 L555.27 620.48 L555.46 624.55 L555.64 628.99 L555.82 633.78 L556 638.92 L556.19 644.4 L556.37 650.22 L556.55 656.36 L556.73 662.81 L556.92 669.57 L557.12 676.63 L557.32 683.98 L557.53 691.6 L557.74 699.48 L557.95 707.61 L558.17 715.99 L558.38 724.59 L558.6 733.4 L558.82 742.42 L559.05 751.62 L559.27 761" stroke-width="1.5" fill="none"/>
<path d="M563.18 976.1 L563.32 985.48 L563.46 994.68 L563.6 1003.7 L563.75 1012.51 L563.9 1021.11 L564.05 1029.49 L564.2 1037.62 L564.36 1045.5 L564.51 1053.12 L564.68 1060.47 L564.84 1067.53 L565.02 1074.29 L565.2 1080.74 L565.38 1086.88 L565.56 1092.7 L565.75 1098.18 L565.93 1103.32 L566.11 1108.11 L566.29 1112.55 L566.48 1116.62 L566.66 1120.32 L566.84 1123.65 L567.02 1126.59 L567.21 1129.16 L567.39 1131.33 L567.57 1133.12 L567.75 1134.51 L567.94 1135.5 L568.12 1136.1 L568.3 1136.3" stroke-width="1.5" fill="none"/>
<path d="M556.95 600.8 L557.13 601 L557.31 601.6 L557.5 602.59 L557.68 603.98 L557.86 605.77 L558.04 607.94 L558.23 610.51 L558.41 613.45 L558.59 616.78 L558.77 620.48 L558.96 624.55 L559.14 628.99 L559.32 633.78 L559.5 638.92 L559.69 644.4 L559.87 650.22 L560.05 656.36 L560.23 662.81 L560.41 669.57 L560.57 676.63 L560.74 683.98 L560.89 691.6 L561.05 699.48 L561.2 707.61 L561.35 715.99 L561.5 724.59 L561.65 733.4 L561.79 742.42 L561.93 751.62 L562.07 761" stroke-width="2.5" fill="none"/>
<path d="M565.98 976.1 L566.2 985.48 L566.43 994.68 L566.65 1003.7 L566.87 1012.51 L567.08 1021.11 L567.3 1029.49 L567.51 1037.62 L567.72 1045.5 L567.93 1053.12 L568.13 1060.47 L568.33 1067.53 L568.52 1074.29 L568.7 1080.74 L568.88 1086.88 L569.06 1092.7 L569.25 1098.18 L569.43 1103.32 L569.61 1108.11 L569.79 1112.55 L569.98 1116.62 L570.16 1120.32 L570.34 1123.65 L570.52 1126.59 L570.71 1129.16 L570.89 1131.33 L571.07 1133.12 L571.25 1134.51 L571.44 1135.5 L571.62 1136.1 L571.8 1136.3" stroke-width="2.5" fill="none"/>
<path d="M566.6 616.65 L566.86 617.04 L567.13 618.22 L567.39 620.17 L567.66 622.9 L567.92 626.4 L568.18 630.65 L568.45 635.64 L568.71 641.35 L568.97 647.77 L569.24 654.88 L569.5 662.66 L569.77 671.08 L570.03 680.11 L570.29 689.73 L570.56 699.91 L570.82 710.61 L571.09 721.8 L571.35 733.45 L571.61 745.52 L571.88 757.98 L572.14 770.78 L572.4 783.88 L572.67 797.25 L572.93 810.84" stroke-width="1.6" fill="none"/>
<path d="M575.12 926.26 L575.38 939.85 L575.65 953.22 L575.91 966.32 L576.17 979.12 L576.44 991.58 L576.7 1003.65 L576.96 1015.3 L577.23 1026.49 L577.49 1037.19 L577.76 1047.37 L578.02 1056.99 L578.28 1066.02 L578.55 1074.44 L578.81 1082.22 L579.08 1089.33 L579.34 1095.75 L579.6 1101.46 L579.87 1106.45 L580.13 1110.7 L580.39 1114.2 L580.66 1116.93 L580.92 1118.88 L581.19 1120.06 L581.45 1120.45" stroke-width="1.6" fill="none"/>
<path d="M573.7 616.65 L573.96 617.04 L574.23 618.22 L574.49 620.17 L574.76 622.9 L575.02 626.4 L575.28 630.65 L575.55 635.64 L575.81 641.35 L576.07 647.77 L576.34 654.88 L576.6 662.66 L576.87 671.08 L577.13 680.11 L577.39 689.73 L577.66 699.91 L577.92 710.61 L578.19 721.8 L578.45 733.45 L578.71 745.52 L578.98 757.98 L579.24 770.78 L579.5 783.88 L579.77 797.25 L580.03 810.84" stroke-width="1.6" fill="none"/>
<path d="M582.22 926.26 L582.48 939.85 L582.75 953.22 L583.01 966.32 L583.27 979.12 L583.54 991.58 L583.8 1003.65 L584.06 1015.3 L584.33 1026.49 L584.59 1037.19 L584.86 1047.37 L585.12 1056.99 L585.38 1066.02 L585.65 1074.44 L585.91 1082.22 L586.18 1089.33 L586.44 1095.75 L586.7 1101.46 L586.97 1106.45 L587.23 1110.7 L587.49 1114.2 L587.76 1116.93 L588.02 1118.88 L588.29 1120.06 L588.55 1120.45" stroke-width="1.6" fill="none"/>
<path d="M553.45 600.8 L556.95 600.8 L566.6 616.65" stroke-width="2" fill="none"/>
<path d="M559.27 761 L562.07 761 L572.93 810.84" stroke-width="2.1" fill="none"/>
<path d="M566.6 616.65 L573.7 616.65 L583.15 600.8" stroke-width="2" fill="none"/>
<path d="M572.93 810.84 L580.03 810.84 L588.97 761" stroke-width="2.1" fill="none"/>
<path d="M568.3 1136.3 L571.8 1136.3 L581.45 1120.45 L588.55 1120.45 L598 1136.3" stroke-width="2" fill="none"/>
<path d="M563.18 976.1 L565.98 976.1 L575.12 926.26 L582.22 926.26 L592.88 976.1" stroke-width="2.1" fill="none"/>
<path d="M583.15 600.8 L583.33 601 L583.51 601.6 L583.7 602.59 L583.88 603.98 L584.06 605.77 L584.24 607.94 L584.43 610.51 L584.61 613.45 L584.79 616.78 L584.97 620.48 L585.16 624.55 L585.34 628.99 L585.52 633.78 L585.7 638.92 L585.89 644.4 L586.07 650.22 L586.25 656.36 L586.43 662.81 L586.62 669.57 L586.82 676.63 L587.02 683.98 L587.23 691.6 L587.44 699.48 L587.65 707.61 L587.87 715.99 L588.08 724.59 L588.3 733.4 L588.52 742.42 L588.75 751.62 L588.97 761" stroke-width="1.5" fill="none"/>
<path d="M592.88 976.1 L593.02 985.48 L593.16 994.68 L593.3 1003.7 L593.45 1012.51 L593.6 1021.11 L593.75 1029.49 L593.9 1037.62 L594.06 1045.5 L594.21 1053.12 L594.38 1060.47 L594.54 1067.53 L594.72 1074.29 L594.9 1080.74 L595.08 1086.88 L595.26 1092.7 L595.45 1098.18 L595.63 1103.32 L595.81 1108.11 L595.99 1112.55 L596.18 1116.62 L596.36 1120.32 L596.54 1123.65 L596.72 1126.59 L596.91 1129.16 L597.09 1131.33 L597.27 1133.12 L597.45 1134.51 L597.64 1135.5 L597.82 1136.1 L598 1136.3" stroke-width="1.5" fill="none"/>
<path d="M586.65 600.8 L586.83 601 L587.01 601.6 L587.2 602.59 L587.38 603.98 L587.56 605.77 L587.74 607.94 L587.93 610.51 L588.11 613.45 L588.29 616.78 L588.47 620.48 L588.66 624.55 L588.84 628.99 L589.02 633.78 L589.2 638.92 L589.39 644.4 L589.57 650.22 L589.75 656.36 L589.93 662.81 L590.11 669.57 L590.27 676.63 L590.44 683.98 L590.59 691.6 L590.75 699.48 L590.9 707.61 L591.05 715.99 L591.2 724.59 L591.35 733.4 L591.49 742.42 L591.63 751.62 L591.77 761" stroke-width="2.5" fill="none"/>
<path d="M595.68 976.1 L595.9 985.48 L596.13 994.68 L596.35 1003.7 L596.57 1012.51 L596.78 1021.11 L597 1029.49 L597.21 1037.62 L597.42 1045.5 L597.63 1053.12 L597.83 1060.47 L598.03 1067.53 L598.22 1074.29 L598.4 1080.74 L598.58 1086.88 L598.76 1092.7 L598.95 1098.18 L599.13 1103.32 L599.31 1108.11 L599.49 1112.55 L599.68 1116.62 L599.86 1120.32 L600.04 1123.65 L600.22 1126.59 L600.41 1129.16 L600.59 1131.33 L600.77 1133.12 L600.95 1134.51 L601.14 1135.5 L601.32 1136.1 L601.5 1136.3" stroke-width="2.5" fill="none"/>
<path d="M596.3 616.65 L596.56 617.04 L596.83 618.22 L597.09 620.17 L597.36 622.9 L597.62 626.4 L597.88 630.65 L598.15 635.64 L598.41 641.35 L598.67 647.77 L598.94 654.88 L599.2 662.66 L599.47 671.08 L599.73 680.11 L599.99 689.73 L600.26 699.91 L600.52 710.61 L600.79 721.8 L601.05 733.45 L601.31 745.52 L601.58 757.98 L601.84 770.78 L602.1 783.88 L602.37 797.25 L602.63 810.84" stroke-width="1.6" fill="none"/>
<path d="M604.82 926.26 L605.08 939.85 L605.35 953.22 L605.61 966.32 L605.87 979.12 L606.14 991.58 L606.4 1003.65 L606.66 1015.3 L606.93 1026.49 L607.19 1037.19 L607.46 1047.37 L607.72 1056.99 L607.98 1066.02 L608.25 1074.44 L608.51 1082.22 L608.78 1089.33 L609.04 1095.75 L609.3 1101.46 L609.57 1106.45 L609.83 1110.7 L610.09 1114.2 L610.36 1116.93 L610.62 1118.88 L610.89 1120.06 L611.15 1120.45" stroke-width="1.6" fill="none"/>
<path d="M603.4 616.65 L603.66 617.04 L603.93 618.22 L604.19 620.17 L604.46 622.9 L604.72 626.4 L604.98 630.65 L605.25 635.64 L605.51 641.35 L605.77 647.77 L606.04 654.88 L606.3 662.66 L606.57 671.08 L606.83 680.11 L607.09 689.73 L607.36 699.91 L607.62 710.61 L607.89 721.8 L608.15 733.45 L608.41 745.52 L608.68 757.98 L608.94 770.78 L609.2 783.88 L609.47 797.25 L609.73 810.84" stroke-width="1.6" fill="none"/>
<path d="M611.92 926.26 L612.18 939.85 L612.45 953.22 L612.71 966.32 L612.97 979.12 L613.24 991.58 L613.5 1003.65 L613.76 1015.3 L614.03 1026.49 L614.29 1037.19 L614.56 1047.37 L614.82 1056.99 L615.08 1066.02 L615.35 1074.44 L615.61 1082.22 L615.88 1089.33 L616.14 1095.75 L616.4 1101.46 L616.67 1106.45 L616.93 1110.7 L617.19 1114.2 L617.46 1116.93 L617.72 1118.88 L617.99 1120.06 L618.25 1120.45" stroke-width="1.6" fill="none"/>
<path d="M583.15 600.8 L586.65 600.8 L596.3 616.65" stroke-width="2" fill="none"/>
<path d="M588.97 761 L591.77 761 L602.63 810.84" stroke-width="2.1" fill="none"/>
<path d="M596.3 616.65 L603.4 616.65 L612.85 600.8" stroke-width="2" fill="none"/>
<path d="M602.63 810.84 L609.73 810.84 L618.67 761" stroke-width="2.1" fill="none"/>
<path d="M598 1136.3 L601.5 1136.3 L611.15 1120.45 L618.25 1120.45 L627.7 1136.3" stroke-width="2" fill="none"/>
<path d="M592.88 976.1 L595.68 976.1 L604.82 926.26 L611.92 926.26 L622.58 976.1" stroke-width="2.1" fill="none"/>
<path d="M612.85 600.8 L613.03 601 L613.21 601.6 L613.4 602.59 L613.58 603.98 L613.76 605.77 L613.94 607.94 L614.13 610.51 L614.31 613.45 L614.49 616.78 L614.67 620.48 L614.86 624.55 L615.04 628.99 L615.22 633.78 L615.4 638.92 L615.59 644.4 L615.77 650.22 L615.95 656.36 L616.13 662.81 L616.32 669.57 L616.52 676.63 L616.72 683.98 L616.93 691.6 L617.14 699.48 L617.35 707.61 L617.57 715.99 L617.78 724.59 L618 733.4 L618.22 742.42 L618.45 751.62 L618.67 761" stroke-width="1.5" fill="none"/>
<path d="M622.58 976.1 L622.72 985.48 L622.86 994.68 L623 1003.7 L623.15 1012.51 L623.3 1021.11 L623.45 1029.49 L623.6 1037.62 L623.76 1045.5 L623.91 1053.12 L624.08 1060.47 L624.24 1067.53 L624.42 1074.29 L624.6 1080.74 L624.78 1086.88 L624.96 1092.7 L625.15 1098.18 L625.33 1103.32 L625.51 1108.11 L625.69 1112.55 L625.88 1116.62 L626.06 1120.32 L626.24 1123.65 L626.42 1126.59 L626.61 1129.16 L626.79 1131.33 L626.97 1133.12 L627.15 1134.51 L627.34 1135.5 L627.52 1136.1 L627.7 1136.3" stroke-width="1.5" fill="none"/>
<path d="M616.35 600.8 L616.53 601 L616.71 601.6 L616.9 602.59 L617.08 603.98 L617.26 605.77 L617.44 607.94 L617.63 610.51 L617.81 613.45 L617.99 616.78 L618.17 620.48 L618.36 624.55 L618.54 628.99 L618.72 633.78 L618.9 638.92 L619.09 644.4 L619.27 650.22 L619.45 656.36 L619.63 662.81 L619.81 669.57 L619.97 676.63 L620.14 683.98 L620.29 691.6 L620.45 699.48 L620.6 707.61 L620.75 715.99 L620.9 724.59 L621.05 733.4 L621.19 742.42 L621.33 751.62 L621.47 761" stroke-width="2.5" fill="none"/>
<path d="M625.38 976.1 L625.6 985.48 L625.83 994.68 L626.05 1003.7 L626.27 1012.51 L626.48 1021.11 L626.7 1029.49 L626.91 1037.62 L627.12 1045.5 L627.33 1053.12 L627.53 1060.47 L627.73 1067.53 L627.92 1074.29 L628.1 1080.74 L628.28 1086.88 L628.46 1092.7 L628.65 1098.18 L628.83 1103.32 L629.01 1108.11 L629.19 1112.55 L629.38 1116.62 L629.56 1120.32 L629.74 1123.65 L629.92 1126.59 L630.11 1129.16 L630.29 1131.33 L630.47 1133.12 L630.65 1134.51 L630.84 1135.5 L631.02 1136.1 L631.2 1136.3" stroke-width="2.5" fill="none"/>
<path d="M626 616.65 L626.26 617.04 L626.53 618.22 L626.79 620.17 L627.06 622.9 L627.32 626.4 L627.58 630.65 L627.85 635.64 L628.11 641.35 L628.37 647.77 L628.64 654.88 L628.9 662.66 L629.17 671.08 L629.43 680.11 L629.69 689.73 L629.96 699.91 L630.22 710.61 L630.49 721.8 L630.75 733.45 L631.01 745.52 L631.28 757.98 L631.54 770.78 L631.8 783.88 L632.07 797.25 L632.33 810.84" stroke-width="1.6" fill="none"/>
<path d="M634.52 926.26 L634.78 939.85 L635.05 953.22 L635.31 966.32 L635.57 979.12 L635.84 991.58 L636.1 1003.65 L636.36 1015.3 L636.63 1026.49 L636.89 1037.19 L637.16 1047.37 L637.42 1056.99 L637.68 1066.02 L637.95 1074.44 L638.21 1082.22 L638.48 1089.33 L638.74 1095.75 L639 1101.46 L639.27 1106.45 L639.53 1110.7 L639.79 1114.2 L640.06 1116.93 L640.32 1118.88 L640.59 1120.06 L640.85 1120.45" stroke-width="1.6" fill="none"/>
<path d="M633.1 616.65 L633.36 617.04 L633.63 618.22 L633.89 620.17 L634.16 622.9 L634.42 626.4 L634.68 630.65 L634.95 635.64 L635.21 641.35 L635.47 647.77 L635.74 654.88 L636 662.66 L636.27 671.08 L636.53 680.11 L636.79 689.73 L637.06 699.91 L637.32 710.61 L637.59 721.8 L637.85 733.45 L638.11 745.52 L638.38 757.98 L638.64 770.78 L638.9 783.88 L639.17 797.25 L639.43 810.84" stroke-width="1.6" fill="none"/>
<path d="M641.62 926.26 L641.88 939.85 L642.15 953.22 L642.41 966.32 L642.67 979.12 L642.94 991.58 L643.2 1003.65 L643.46 1015.3 L643.73 1026.49 L643.99 1037.19 L644.26 1047.37 L644.52 1056.99 L644.78 1066.02 L645.05 1074.44 L645.31 1082.22 L645.58 1089.33 L645.84 1095.75 L646.1 1101.46 L646.37 1106.45 L646.63 1110.7 L646.89 1114.2 L647.16 1116.93 L647.42 1118.88 L647.69 1120.06 L647.95 1120.45" stroke-width="1.6" fill="none"/>
<path d="M612.85 600.8 L616.35 600.8 L626 616.65" stroke-width="2" fill="none"/>
<path d="M618.67 761 L621.47 761 L632.33 810.84" stroke-width="2.1" fill="none"/>
<path d="M626 616.65 L633.1 616.65 L642.55 600.8" stroke-width="2" fill="none"/>
<path d="M632.33 810.84 L639.43 810.84 L648.37 761" stroke-width="2.1" fill="none"/>
<path d="M627.7 1136.3 L631.2 1136.3 L640.85 1120.45 L647.95 1120.45 L657.4 1136.3" stroke-width="2" fill="none"/>
<path d="M622.58 976.1 L625.38 976.1 L634.52 926.26 L641.62 926.26 L652.28 976.1" stroke-width="2.1" fill="none"/>
<path d="M642.55 600.8 L642.73 601 L642.91 601.6 L643.1 602.59 L643.28 603.98 L643.46 605.77 L643.64 607.94 L643.83 610.51 L644.01 613.45 L644.19 616.78 L644.37 620.48 L644.56 624.55 L644.74 628.99 L644.92 633.78 L645.1 638.92 L645.29 644.4 L645.47 650.22 L645.65 656.36 L645.83 662.81 L646.02 669.57 L646.22 676.63 L646.42 683.98 L646.63 691.6 L646.84 699.48 L647.05 707.61 L647.27 715.99 L647.48 724.59 L647.7 733.4 L647.92 742.42 L648.15 751.62 L648.37 761" stroke-width="1.5" fill="none"/>
<path d="M652.28 976.1 L652.42 985.48 L652.56 994.68 L652.7 1003.7 L652.85 1012.51 L653 1021.11 L653.15 1029.49 L653.3 1037.62 L653.46 1045.5 L653.61 1053.12 L653.78 1060.47 L653.94 1067.53 L654.12 1074.29 L654.3 1080.74 L654.48 1086.88 L654.66 1092.7 L654.85 1098.18 L655.03 1103.32 L655.21 1108.11 L655.39 1112.55 L655.58 1116.62 L655.76 1120.32 L655.94 1123.65 L656.12 1126.59 L656.31 1129.16 L656.49 1131.33 L656.67 1133.12 L656.85 1134.51 L657.04 1135.5 L657.22 1136.1 L657.4 1136.3" stroke-width="1.5" fill="none"/>
<path d="M646.05 600.8 L646.23 601 L646.41 601.6 L646.6 602.59 L646.78 603.98 L646.96 605.77 L647.14 607.94 L647.33 610.51 L647.51 613.45 L647.69 616.78 L647.87 620.48 L648.06 624.55 L648.24 628.99 L648.42 633.78 L648.6 638.92 L648.79 644.4 L648.97 650.22 L649.15 656.36 L649.33 662.81 L649.51 669.57 L649.67 676.63 L649.84 683.98 L649.99 691.6 L650.15 699.48 L650.3 707.61 L650.45 715.99 L650.6 724.59 L650.75 733.4 L650.89 742.42 L651.03 751.62 L651.17 761" stroke-width="2.5" fill="none"/>
<path d="M655.08 976.1 L655.3 985.48 L655.53 994.68 L655.75 1003.7 L655.97 1012.51 L656.18 1021.11 L656.4 1029.49 L656.61 1037.62 L656.82 1045.5 L657.03 1053.12 L657.23 1060.47 L657.43 1067.53 L657.62 1074.29 L657.8 1080.74 L657.98 1086.88 L658.16 1092.7 L658.35 1098.18 L658.53 1103.32 L658.71 1108.11 L658.89 1112.55 L659.08 1116.62 L659.26 1120.32 L659.44 1123.65 L659.62 1126.59 L659.81 1129.16 L659.99 1131.33 L660.17 1133.12 L660.35 1134.51 L660.54 1135.5 L660.72 1136.1 L660.9 1136.3" stroke-width="2.5" fill="none"/>
<path d="M655.7 616.65 L655.96 617.04 L656.23 618.22 L656.49 620.17 L656.76 622.9 L657.02 626.4 L657.28 630.65 L657.55 635.64 L657.81 641.35 L658.07 647.77 L658.34 654.88 L658.6 662.66 L658.87 671.08 L659.13 680.11 L659.39 689.73 L659.66 699.91 L659.92 710.61 L660.19 721.8 L660.45 733.45 L660.71 745.52 L660.98 757.98 L661.24 770.78 L661.5 783.88 L661.77 797.25 L662.03 810.84" stroke-width="1.6" fill="none"/>
<path d="M664.22 926.26 L664.48 939.85 L664.75 953.22 L665.01 966.32 L665.27 979.12 L665.54 991.58 L665.8 1003.65 L666.06 1015.3 L666.33 1026.49 L666.59 1037.19 L666.86 1047.37 L667.12 1056.99 L667.38 1066.02 L667.65 1074.44 L667.91 1082.22 L668.18 1089.33 L668.44 1095.75 L668.7 1101.46 L668.97 1106.45 L669.23 1110.7 L669.49 1114.2 L669.76 1116.93 L670.02 1118.88 L670.29 1120.06 L670.55 1120.45" stroke-width="1.6" fill="none"/>
<path d="M662.8 616.65 L663.06 617.04 L663.33 618.22 L663.59 620.17 L663.86 622.9 L664.12 626.4 L664.38 630.65 L664.65 635.64 L664.91 641.35 L665.17 647.77 L665.44 654.88 L665.7 662.66 L665.97 671.08 L666.23 680.11 L666.49 689.73 L666.76 699.91 L667.02 710.61 L667.29 721.8 L667.55 733.45 L667.81 745.52 L668.08 757.98 L668.34 770.78 L668.6 783.88 L668.87 797.25 L669.13 810.84" stroke-width="1.6" fill="none"/>
<path d="M671.32 926.26 L671.58 939.85 L671.85 953.22 L672.11 966.32 L672.37 979.12 L672.64 991.58 L672.9 1003.65 L673.16 1015.3 L673.43 1026.49 L673.69 1037.19 L673.96 1047.37 L674.22 1056.99 L674.48 1066.02 L674.75 1074.44 L675.01 1082.22 L675.28 1089.33 L675.54 1095.75 L675.8 1101.46 L676.07 1106.45 L676.33 1110.7 L676.59 1114.2 L676.86 1116.93 L677.12 1118.88 L677.39 1120.06 L677.65 1120.45" stroke-width="1.6" fill="none"/>
<path d="M642.55 600.8 L646.05 600.8 L655.7 616.65" stroke-width="2" fill="none"/>
<path d="M648.37 761 L651.17 761 L662.03 810.84" stroke-width="2.1" fill="none"/>
<path d="M655.7 616.65 L662.8 616.65 L672.25 600.8" stroke-width="2" fill="none"/>
<path d="M662.03 810.84 L669.13 810.84 L678.07 761" stroke-width="2.1" fill="none"/>
<path d="M657.4 1136.3 L660.9 1136.3 L670.55 1120.45 L677.65 1120.45 L687.1 1136.3" stroke-width="2" fill="none"/>
<path d="M652.28 976.1 L655.08 976.1 L664.22 926.26 L671.32 926.26 L681.98 976.1" stroke-width="2.1" fill="none"/>
</g>
<g clip-path="url(#cpC)">
<path d="M523.75 600.8 L523.93 601 L524.11 601.6 L524.3 602.59 L524.48 603.98 L524.66 605.77 L524.84 607.94 L525.03 610.51 L525.21 613.45 L525.39 616.78 L525.57 620.48 L525.76 624.55 L525.94 628.99 L526.12 633.78 L526.3 638.92 L526.49 644.4 L526.67 650.22 L526.85 656.36 L527.03 662.81 L527.22 669.57 L527.42 676.63 L527.62 683.98 L527.83 691.6 L528.04 699.48 L528.25 707.61 L528.47 715.99 L528.68 724.59 L528.9 733.4 L529.12 742.42 L529.35 751.62 L529.57 761" stroke-width="1.5" fill="none"/>
<path d="M533.48 976.1 L533.62 985.48 L533.76 994.68 L533.9 1003.7 L534.05 1012.51 L534.2 1021.11 L534.35 1029.49 L534.5 1037.62 L534.66 1045.5 L534.81 1053.12 L534.98 1060.47 L535.14 1067.53 L535.32 1074.29 L535.5 1080.74 L535.68 1086.88 L535.86 1092.7 L536.05 1098.18 L536.23 1103.32 L536.41 1108.11 L536.59 1112.55 L536.78 1116.62 L536.96 1120.32 L537.14 1123.65 L537.32 1126.59 L537.51 1129.16 L537.69 1131.33 L537.87 1133.12 L538.05 1134.51 L538.24 1135.5 L538.42 1136.1 L538.6 1136.3" stroke-width="1.5" fill="none"/>
<path d="M527.25 600.8 L527.43 601 L527.61 601.6 L527.8 602.59 L527.98 603.98 L528.16 605.77 L528.34 607.94 L528.53 610.51 L528.71 613.45 L528.89 616.78 L529.07 620.48 L529.26 624.55 L529.44 628.99 L529.62 633.78 L529.8 638.92 L529.99 644.4 L530.17 650.22 L530.35 656.36 L530.53 662.81 L530.71 669.57 L530.87 676.63 L531.04 683.98 L531.19 691.6 L531.35 699.48 L531.5 707.61 L531.65 715.99 L531.8 724.59 L531.95 733.4 L532.09 742.42 L532.23 751.62 L532.37 761" stroke-width="2.5" fill="none"/>
<path d="M536.28 976.1 L536.5 985.48 L536.73 994.68 L536.95 1003.7 L537.17 1012.51 L537.38 1021.11 L537.6 1029.49 L537.81 1037.62 L538.02 1045.5 L538.23 1053.12 L538.43 1060.47 L538.63 1067.53 L538.82 1074.29 L539 1080.74 L539.18 1086.88 L539.36 1092.7 L539.55 1098.18 L539.73 1103.32 L539.91 1108.11 L540.09 1112.55 L540.28 1116.62 L540.46 1120.32 L540.64 1123.65 L540.82 1126.59 L541.01 1129.16 L541.19 1131.33 L541.37 1133.12 L541.55 1134.51 L541.74 1135.5 L541.92 1136.1 L542.1 1136.3" stroke-width="2.5" fill="none"/>
<path d="M536.9 616.65 L537.16 617.04 L537.43 618.22 L537.69 620.17 L537.96 622.9 L538.22 626.4 L538.48 630.65 L538.75 635.64 L539.01 641.35 L539.27 647.77 L539.54 654.88 L539.8 662.66 L540.07 671.08 L540.33 680.11 L540.59 689.73 L540.86 699.91 L541.12 710.61 L541.39 721.8 L541.65 733.45 L541.91 745.52 L542.18 757.98 L542.44 770.78 L542.7 783.88 L542.97 797.25 L543.23 810.84" stroke-width="1.6" fill="none"/>
<path d="M545.42 926.26 L545.68 939.85 L545.95 953.22 L546.21 966.32 L546.47 979.12 L546.74 991.58 L547 1003.65 L547.26 1015.3 L547.53 1026.49 L547.79 1037.19 L548.06 1047.37 L548.32 1056.99 L548.58 1066.02 L548.85 1074.44 L549.11 1082.22 L549.38 1089.33 L549.64 1095.75 L549.9 1101.46 L550.17 1106.45 L550.43 1110.7 L550.69 1114.2 L550.96 1116.93 L551.22 1118.88 L551.49 1120.06 L551.75 1120.45" stroke-width="1.6" fill="none"/>
<path d="M544 616.65 L544.26 617.04 L544.53 618.22 L544.79 620.17 L545.06 622.9 L545.32 626.4 L545.58 630.65 L545.85 635.64 L546.11 641.35 L546.37 647.77 L546.64 654.88 L546.9 662.66 L547.17 671.08 L547.43 680.11 L547.69 689.73 L547.96 699.91 L548.22 710.61 L548.49 721.8 L548.75 733.45 L549.01 745.52 L549.28 757.98 L549.54 770.78 L549.8 783.88 L550.07 797.25 L550.33 810.84" stroke-width="1.6" fill="none"/>
<path d="M552.52 926.26 L552.78 939.85 L553.05 953.22 L553.31 966.32 L553.57 979.12 L553.84 991.58 L554.1 1003.65 L554.36 1015.3 L554.63 1026.49 L554.89 1037.19 L555.16 1047.37 L555.42 1056.99 L555.68 1066.02 L555.95 1074.44 L556.21 1082.22 L556.48 1089.33 L556.74 1095.75 L557 1101.46 L557.27 1106.45 L557.53 1110.7 L557.79 1114.2 L558.06 1116.93 L558.32 1118.88 L558.59 1120.06 L558.85 1120.45" stroke-width="1.6" fill="none"/>
<path d="M523.75 600.8 L527.25 600.8 L536.9 616.65" stroke-width="2" fill="none"/>
<path d="M529.57 761 L532.37 761 L543.23 810.84" stroke-width="2.1" fill="none"/>
<path d="M536.9 616.65 L544 616.65 L553.45 600.8" stroke-width="2" fill="none"/>
<path d="M543.23 810.84 L550.33 810.84 L559.27 761" stroke-width="2.1" fill="none"/>
<path d="M538.6 1136.3 L542.1 1136.3 L551.75 1120.45 L558.85 1120.45 L568.3 1136.3" stroke-width="2" fill="none"/>
<path d="M533.48 976.1 L536.28 976.1 L545.42 926.26 L552.52 926.26 L563.18 976.1" stroke-width="2.1" fill="none"/>
<path d="M553.45 600.8 L553.63 601 L553.81 601.6 L554 602.59 L554.18 603.98 L554.36 605.77 L554.54 607.94 L554.73 610.51 L554.91 613.45 L555.09 616.78 L555.27 620.48 L555.46 624.55 L555.64 628.99 L555.82 633.78 L556 638.92 L556.19 644.4 L556.37 650.22 L556.55 656.36 L556.73 662.81 L556.92 669.57 L557.12 676.63 L557.32 683.98 L557.53 691.6 L557.74 699.48 L557.95 707.61 L558.17 715.99 L558.38 724.59 L558.6 733.4 L558.82 742.42 L559.05 751.62 L559.27 761" stroke-width="1.5" fill="none"/>
<path d="M563.18 976.1 L563.32 985.48 L563.46 994.68 L563.6 1003.7 L563.75 1012.51 L563.9 1021.11 L564.05 1029.49 L564.2 1037.62 L564.36 1045.5 L564.51 1053.12 L564.68 1060.47 L564.84 1067.53 L565.02 1074.29 L565.2 1080.74 L565.38 1086.88 L565.56 1092.7 L565.75 1098.18 L565.93 1103.32 L566.11 1108.11 L566.29 1112.55 L566.48 1116.62 L566.66 1120.32 L566.84 1123.65 L567.02 1126.59 L567.21 1129.16 L567.39 1131.33 L567.57 1133.12 L567.75 1134.51 L567.94 1135.5 L568.12 1136.1 L568.3 1136.3" stroke-width="1.5" fill="none"/>
<path d="M556.95 600.8 L557.13 601 L557.31 601.6 L557.5 602.59 L557.68 603.98 L557.86 605.77 L558.04 607.94 L558.23 610.51 L558.41 613.45 L558.59 616.78 L558.77 620.48 L558.96 624.55 L559.14 628.99 L559.32 633.78 L559.5 638.92 L559.69 644.4 L559.87 650.22 L560.05 656.36 L560.23 662.81 L560.41 669.57 L560.57 676.63 L560.74 683.98 L560.89 691.6 L561.05 699.48 L561.2 707.61 L561.35 715.99 L561.5 724.59 L561.65 733.4 L561.79 742.42 L561.93 751.62 L562.07 761" stroke-width="2.5" fill="none"/>
<path d="M565.98 976.1 L566.2 985.48 L566.43 994.68 L566.65 1003.7 L566.87 1012.51 L567.08 1021.11 L567.3 1029.49 L567.51 1037.62 L567.72 1045.5 L567.93 1053.12 L568.13 1060.47 L568.33 1067.53 L568.52 1074.29 L568.7 1080.74 L568.88 1086.88 L569.06 1092.7 L569.25 1098.18 L569.43 1103.32 L569.61 1108.11 L569.79 1112.55 L569.98 1116.62 L570.16 1120.32 L570.34 1123.65 L570.52 1126.59 L570.71 1129.16 L570.89 1131.33 L571.07 1133.12 L571.25 1134.51 L571.44 1135.5 L571.62 1136.1 L571.8 1136.3" stroke-width="2.5" fill="none"/>
<path d="M566.6 616.65 L566.86 617.04 L567.13 618.22 L567.39 620.17 L567.66 622.9 L567.92 626.4 L568.18 630.65 L568.45 635.64 L568.71 641.35 L568.97 647.77 L569.24 654.88 L569.5 662.66 L569.77 671.08 L570.03 680.11 L570.29 689.73 L570.56 699.91 L570.82 710.61 L571.09 721.8 L571.35 733.45 L571.61 745.52 L571.88 757.98 L572.14 770.78 L572.4 783.88 L572.67 797.25 L572.93 810.84" stroke-width="1.6" fill="none"/>
<path d="M575.12 926.26 L575.38 939.85 L575.65 953.22 L575.91 966.32 L576.17 979.12 L576.44 991.58 L576.7 1003.65 L576.96 1015.3 L577.23 1026.49 L577.49 1037.19 L577.76 1047.37 L578.02 1056.99 L578.28 1066.02 L578.55 1074.44 L578.81 1082.22 L579.08 1089.33 L579.34 1095.75 L579.6 1101.46 L579.87 1106.45 L580.13 1110.7 L580.39 1114.2 L580.66 1116.93 L580.92 1118.88 L581.19 1120.06 L581.45 1120.45" stroke-width="1.6" fill="none"/>
<path d="M573.7 616.65 L573.96 617.04 L574.23 618.22 L574.49 620.17 L574.76 622.9 L575.02 626.4 L575.28 630.65 L575.55 635.64 L575.81 641.35 L576.07 647.77 L576.34 654.88 L576.6 662.66 L576.87 671.08 L577.13 680.11 L577.39 689.73 L577.66 699.91 L577.92 710.61 L578.19 721.8 L578.45 733.45 L578.71 745.52 L578.98 757.98 L579.24 770.78 L579.5 783.88 L579.77 797.25 L580.03 810.84" stroke-width="1.6" fill="none"/>
<path d="M582.22 926.26 L582.48 939.85 L582.75 953.22 L583.01 966.32 L583.27 979.12 L583.54 991.58 L583.8 1003.65 L584.06 1015.3 L584.33 1026.49 L584.59 1037.19 L584.86 1047.37 L585.12 1056.99 L585.38 1066.02 L585.65 1074.44 L585.91 1082.22 L586.18 1089.33 L586.44 1095.75 L586.7 1101.46 L586.97 1106.45 L587.23 1110.7 L587.49 1114.2 L587.76 1116.93 L588.02 1118.88 L588.29 1120.06 L588.55 1120.45" stroke-width="1.6" fill="none"/>
<path d="M553.45 600.8 L556.95 600.8 L566.6 616.65" stroke-width="2" fill="none"/>
<path d="M559.27 761 L562.07 761 L572.93 810.84" stroke-width="2.1" fill="none"/>
<path d="M566.6 616.65 L573.7 616.65 L583.15 600.8" stroke-width="2" fill="none"/>
<path d="M572.93 810.84 L580.03 810.84 L588.97 761" stroke-width="2.1" fill="none"/>
<path d="M568.3 1136.3 L571.8 1136.3 L581.45 1120.45 L588.55 1120.45 L598 1136.3" stroke-width="2" fill="none"/>
<path d="M563.18 976.1 L565.98 976.1 L575.12 926.26 L582.22 926.26 L592.88 976.1" stroke-width="2.1" fill="none"/>
<path d="M583.15 600.8 L583.33 601 L583.51 601.6 L583.7 602.59 L583.88 603.98 L584.06 605.77 L584.24 607.94 L584.43 610.51 L584.61 613.45 L584.79 616.78 L584.97 620.48 L585.16 624.55 L585.34 628.99 L585.52 633.78 L585.7 638.92 L585.89 644.4 L586.07 650.22 L586.25 656.36 L586.43 662.81 L586.62 669.57 L586.82 676.63 L587.02 683.98 L587.23 691.6 L587.44 699.48 L587.65 707.61 L587.87 715.99 L588.08 724.59 L588.3 733.4 L588.52 742.42 L588.75 751.62 L588.97 761" stroke-width="1.5" fill="none"/>
<path d="M592.88 976.1 L593.02 985.48 L593.16 994.68 L593.3 1003.7 L593.45 1012.51 L593.6 1021.11 L593.75 1029.49 L593.9 1037.62 L594.06 1045.5 L594.21 1053.12 L594.38 1060.47 L594.54 1067.53 L594.72 1074.29 L594.9 1080.74 L595.08 1086.88 L595.26 1092.7 L595.45 1098.18 L595.63 1103.32 L595.81 1108.11 L595.99 1112.55 L596.18 1116.62 L596.36 1120.32 L596.54 1123.65 L596.72 1126.59 L596.91 1129.16 L597.09 1131.33 L597.27 1133.12 L597.45 1134.51 L597.64 1135.5 L597.82 1136.1 L598 1136.3" stroke-width="1.5" fill="none"/>
<path d="M586.65 600.8 L586.83 601 L587.01 601.6 L587.2 602.59 L587.38 603.98 L587.56 605.77 L587.74 607.94 L587.93 610.51 L588.11 613.45 L588.29 616.78 L588.47 620.48 L588.66 624.55 L588.84 628.99 L589.02 633.78 L589.2 638.92 L589.39 644.4 L589.57 650.22 L589.75 656.36 L589.93 662.81 L590.11 669.57 L590.27 676.63 L590.44 683.98 L590.59 691.6 L590.75 699.48 L590.9 707.61 L591.05 715.99 L591.2 724.59 L591.35 733.4 L591.49 742.42 L591.63 751.62 L591.77 761" stroke-width="2.5" fill="none"/>
<path d="M595.68 976.1 L595.9 985.48 L596.13 994.68 L596.35 1003.7 L596.57 1012.51 L596.78 1021.11 L597 1029.49 L597.21 1037.62 L597.42 1045.5 L597.63 1053.12 L597.83 1060.47 L598.03 1067.53 L598.22 1074.29 L598.4 1080.74 L598.58 1086.88 L598.76 1092.7 L598.95 1098.18 L599.13 1103.32 L599.31 1108.11 L599.49 1112.55 L599.68 1116.62 L599.86 1120.32 L600.04 1123.65 L600.22 1126.59 L600.41 1129.16 L600.59 1131.33 L600.77 1133.12 L600.95 1134.51 L601.14 1135.5 L601.32 1136.1 L601.5 1136.3" stroke-width="2.5" fill="none"/>
<path d="M596.3 616.65 L596.56 617.04 L596.83 618.22 L597.09 620.17 L597.36 622.9 L597.62 626.4 L597.88 630.65 L598.15 635.64 L598.41 641.35 L598.67 647.77 L598.94 654.88 L599.2 662.66 L599.47 671.08 L599.73 680.11 L599.99 689.73 L600.26 699.91 L600.52 710.61 L600.79 721.8 L601.05 733.45 L601.31 745.52 L601.58 757.98 L601.84 770.78 L602.1 783.88 L602.37 797.25 L602.63 810.84" stroke-width="1.6" fill="none"/>
<path d="M604.82 926.26 L605.08 939.85 L605.35 953.22 L605.61 966.32 L605.87 979.12 L606.14 991.58 L606.4 1003.65 L606.66 1015.3 L606.93 1026.49 L607.19 1037.19 L607.46 1047.37 L607.72 1056.99 L607.98 1066.02 L608.25 1074.44 L608.51 1082.22 L608.78 1089.33 L609.04 1095.75 L609.3 1101.46 L609.57 1106.45 L609.83 1110.7 L610.09 1114.2 L610.36 1116.93 L610.62 1118.88 L610.89 1120.06 L611.15 1120.45" stroke-width="1.6" fill="none"/>
<path d="M603.4 616.65 L603.66 617.04 L603.93 618.22 L604.19 620.17 L604.46 622.9 L604.72 626.4 L604.98 630.65 L605.25 635.64 L605.51 641.35 L605.77 647.77 L606.04 654.88 L606.3 662.66 L606.57 671.08 L606.83 680.11 L607.09 689.73 L607.36 699.91 L607.62 710.61 L607.89 721.8 L608.15 733.45 L608.41 745.52 L608.68 757.98 L608.94 770.78 L609.2 783.88 L609.47 797.25 L609.73 810.84" stroke-width="1.6" fill="none"/>
<path d="M611.92 926.26 L612.18 939.85 L612.45 953.22 L612.71 966.32 L612.97 979.12 L613.24 991.58 L613.5 1003.65 L613.76 1015.3 L614.03 1026.49 L614.29 1037.19 L614.56 1047.37 L614.82 1056.99 L615.08 1066.02 L615.35 1074.44 L615.61 1082.22 L615.88 1089.33 L616.14 1095.75 L616.4 1101.46 L616.67 1106.45 L616.93 1110.7 L617.19 1114.2 L617.46 1116.93 L617.72 1118.88 L617.99 1120.06 L618.25 1120.45" stroke-width="1.6" fill="none"/>
<path d="M583.15 600.8 L586.65 600.8 L596.3 616.65" stroke-width="2" fill="none"/>
<path d="M588.97 761 L591.77 761 L602.63 810.84" stroke-width="2.1" fill="none"/>
<path d="M596.3 616.65 L603.4 616.65 L612.85 600.8" stroke-width="2" fill="none"/>
<path d="M602.63 810.84 L609.73 810.84 L618.67 761" stroke-width="2.1" fill="none"/>
<path d="M598 1136.3 L601.5 1136.3 L611.15 1120.45 L618.25 1120.45 L627.7 1136.3" stroke-width="2" fill="none"/>
<path d="M592.88 976.1 L595.68 976.1 L604.82 926.26 L611.92 926.26 L622.58 976.1" stroke-width="2.1" fill="none"/>
<path d="M612.85 600.8 L613.03 601 L613.21 601.6 L613.4 602.59 L613.58 603.98 L613.76 605.77 L613.94 607.94 L614.13 610.51 L614.31 613.45 L614.49 616.78 L614.67 620.48 L614.86 624.55 L615.04 628.99 L615.22 633.78 L615.4 638.92 L615.59 644.4 L615.77 650.22 L615.95 656.36 L616.13 662.81 L616.32 669.57 L616.52 676.63 L616.72 683.98 L616.93 691.6 L617.14 699.48 L617.35 707.61 L617.57 715.99 L617.78 724.59 L618 733.4 L618.22 742.42 L618.45 751.62 L618.67 761" stroke-width="1.5" fill="none"/>
<path d="M622.58 976.1 L622.72 985.48 L622.86 994.68 L623 1003.7 L623.15 1012.51 L623.3 1021.11 L623.45 1029.49 L623.6 1037.62 L623.76 1045.5 L623.91 1053.12 L624.08 1060.47 L624.24 1067.53 L624.42 1074.29 L624.6 1080.74 L624.78 1086.88 L624.96 1092.7 L625.15 1098.18 L625.33 1103.32 L625.51 1108.11 L625.69 1112.55 L625.88 1116.62 L626.06 1120.32 L626.24 1123.65 L626.42 1126.59 L626.61 1129.16 L626.79 1131.33 L626.97 1133.12 L627.15 1134.51 L627.34 1135.5 L627.52 1136.1 L627.7 1136.3" stroke-width="1.5" fill="none"/>
<path d="M616.35 600.8 L616.53 601 L616.71 601.6 L616.9 602.59 L617.08 603.98 L617.26 605.77 L617.44 607.94 L617.63 610.51 L617.81 613.45 L617.99 616.78 L618.17 620.48 L618.36 624.55 L618.54 628.99 L618.72 633.78 L618.9 638.92 L619.09 644.4 L619.27 650.22 L619.45 656.36 L619.63 662.81 L619.81 669.57 L619.97 676.63 L620.14 683.98 L620.29 691.6 L620.45 699.48 L620.6 707.61 L620.75 715.99 L620.9 724.59 L621.05 733.4 L621.19 742.42 L621.33 751.62 L621.47 761" stroke-width="2.5" fill="none"/>
<path d="M625.38 976.1 L625.6 985.48 L625.83 994.68 L626.05 1003.7 L626.27 1012.51 L626.48 1021.11 L626.7 1029.49 L626.91 1037.62 L627.12 1045.5 L627.33 1053.12 L627.53 1060.47 L627.73 1067.53 L627.92 1074.29 L628.1 1080.74 L628.28 1086.88 L628.46 1092.7 L628.65 1098.18 L628.83 1103.32 L629.01 1108.11 L629.19 1112.55 L629.38 1116.62 L629.56 1120.32 L629.74 1123.65 L629.92 1126.59 L630.11 1129.16 L630.29 1131.33 L630.47 1133.12 L630.65 1134.51 L630.84 1135.5 L631.02 1136.1 L631.2 1136.3" stroke-width="2.5" fill="none"/>
<path d="M626 616.65 L626.26 617.04 L626.53 618.22 L626.79 620.17 L627.06 622.9 L627.32 626.4 L627.58 630.65 L627.85 635.64 L628.11 641.35 L628.37 647.77 L628.64 654.88 L628.9 662.66 L629.17 671.08 L629.43 680.11 L629.69 689.73 L629.96 699.91 L630.22 710.61 L630.49 721.8 L630.75 733.45 L631.01 745.52 L631.28 757.98 L631.54 770.78 L631.8 783.88 L632.07 797.25 L632.33 810.84" stroke-width="1.6" fill="none"/>
<path d="M634.52 926.26 L634.78 939.85 L635.05 953.22 L635.31 966.32 L635.57 979.12 L635.84 991.58 L636.1 1003.65 L636.36 1015.3 L636.63 1026.49 L636.89 1037.19 L637.16 1047.37 L637.42 1056.99 L637.68 1066.02 L637.95 1074.44 L638.21 1082.22 L638.48 1089.33 L638.74 1095.75 L639 1101.46 L639.27 1106.45 L639.53 1110.7 L639.79 1114.2 L640.06 1116.93 L640.32 1118.88 L640.59 1120.06 L640.85 1120.45" stroke-width="1.6" fill="none"/>
<path d="M633.1 616.65 L633.36 617.04 L633.63 618.22 L633.89 620.17 L634.16 622.9 L634.42 626.4 L634.68 630.65 L634.95 635.64 L635.21 641.35 L635.47 647.77 L635.74 654.88 L636 662.66 L636.27 671.08 L636.53 680.11 L636.79 689.73 L637.06 699.91 L637.32 710.61 L637.59 721.8 L637.85 733.45 L638.11 745.52 L638.38 757.98 L638.64 770.78 L638.9 783.88 L639.17 797.25 L639.43 810.84" stroke-width="1.6" fill="none"/>
<path d="M641.62 926.26 L641.88 939.85 L642.15 953.22 L642.41 966.32 L642.67 979.12 L642.94 991.58 L643.2 1003.65 L643.46 1015.3 L643.73 1026.49 L643.99 1037.19 L644.26 1047.37 L644.52 1056.99 L644.78 1066.02 L645.05 1074.44 L645.31 1082.22 L645.58 1089.33 L645.84 1095.75 L646.1 1101.46 L646.37 1106.45 L646.63 1110.7 L646.89 1114.2 L647.16 1116.93 L647.42 1118.88 L647.69 1120.06 L647.95 1120.45" stroke-width="1.6" fill="none"/>
<path d="M612.85 600.8 L616.35 600.8 L626 616.65" stroke-width="2" fill="none"/>
<path d="M618.67 761 L621.47 761 L632.33 810.84" stroke-width="2.1" fill="none"/>
<path d="M626 616.65 L633.1 616.65 L642.55 600.8" stroke-width="2" fill="none"/>
<path d="M632.33 810.84 L639.43 810.84 L648.37 761" stroke-width="2.1" fill="none"/>
<path d="M627.7 1136.3 L631.2 1136.3 L640.85 1120.45 L647.95 1120.45 L657.4 1136.3" stroke-width="2" fill="none"/>
<path d="M622.58 976.1 L625.38 976.1 L634.52 926.26 L641.62 926.26 L652.28 976.1" stroke-width="2.1" fill="none"/>
<path d="M642.55 600.8 L642.73 601 L642.91 601.6 L643.1 602.59 L643.28 603.98 L643.46 605.77 L643.64 607.94 L643.83 610.51 L644.01 613.45 L644.19 616.78 L644.37 620.48 L644.56 624.55 L644.74 628.99 L644.92 633.78 L645.1 638.92 L645.29 644.4 L645.47 650.22 L645.65 656.36 L645.83 662.81 L646.02 669.57 L646.22 676.63 L646.42 683.98 L646.63 691.6 L646.84 699.48 L647.05 707.61 L647.27 715.99 L647.48 724.59 L647.7 733.4 L647.92 742.42 L648.15 751.62 L648.37 761" stroke-width="1.5" fill="none"/>
<path d="M652.28 976.1 L652.42 985.48 L652.56 994.68 L652.7 1003.7 L652.85 1012.51 L653 1021.11 L653.15 1029.49 L653.3 1037.62 L653.46 1045.5 L653.61 1053.12 L653.78 1060.47 L653.94 1067.53 L654.12 1074.29 L654.3 1080.74 L654.48 1086.88 L654.66 1092.7 L654.85 1098.18 L655.03 1103.32 L655.21 1108.11 L655.39 1112.55 L655.58 1116.62 L655.76 1120.32 L655.94 1123.65 L656.12 1126.59 L656.31 1129.16 L656.49 1131.33 L656.67 1133.12 L656.85 1134.51 L657.04 1135.5 L657.22 1136.1 L657.4 1136.3" stroke-width="1.5" fill="none"/>
<path d="M646.05 600.8 L646.23 601 L646.41 601.6 L646.6 602.59 L646.78 603.98 L646.96 605.77 L647.14 607.94 L647.33 610.51 L647.51 613.45 L647.69 616.78 L647.87 620.48 L648.06 624.55 L648.24 628.99 L648.42 633.78 L648.6 638.92 L648.79 644.4 L648.97 650.22 L649.15 656.36 L649.33 662.81 L649.51 669.57 L649.67 676.63 L649.84 683.98 L649.99 691.6 L650.15 699.48 L650.3 707.61 L650.45 715.99 L650.6 724.59 L650.75 733.4 L650.89 742.42 L651.03 751.62 L651.17 761" stroke-width="2.5" fill="none"/>
<path d="M655.08 976.1 L655.3 985.48 L655.53 994.68 L655.75 1003.7 L655.97 1012.51 L656.18 1021.11 L656.4 1029.49 L656.61 1037.62 L656.82 1045.5 L657.03 1053.12 L657.23 1060.47 L657.43 1067.53 L657.62 1074.29 L657.8 1080.74 L657.98 1086.88 L658.16 1092.7 L658.35 1098.18 L658.53 1103.32 L658.71 1108.11 L658.89 1112.55 L659.08 1116.62 L659.26 1120.32 L659.44 1123.65 L659.62 1126.59 L659.81 1129.16 L659.99 1131.33 L660.17 1133.12 L660.35 1134.51 L660.54 1135.5 L660.72 1136.1 L660.9 1136.3" stroke-width="2.5" fill="none"/>
<path d="M655.7 616.65 L655.96 617.04 L656.23 618.22 L656.49 620.17 L656.76 622.9 L657.02 626.4 L657.28 630.65 L657.55 635.64 L657.81 641.35 L658.07 647.77 L658.34 654.88 L658.6 662.66 L658.87 671.08 L659.13 680.11 L659.39 689.73 L659.66 699.91 L659.92 710.61 L660.19 721.8 L660.45 733.45 L660.71 745.52 L660.98 757.98 L661.24 770.78 L661.5 783.88 L661.77 797.25 L662.03 810.84" stroke-width="1.6" fill="none"/>
<path d="M664.22 926.26 L664.48 939.85 L664.75 953.22 L665.01 966.32 L665.27 979.12 L665.54 991.58 L665.8 1003.65 L666.06 1015.3 L666.33 1026.49 L666.59 1037.19 L666.86 1047.37 L667.12 1056.99 L667.38 1066.02 L667.65 1074.44 L667.91 1082.22 L668.18 1089.33 L668.44 1095.75 L668.7 1101.46 L668.97 1106.45 L669.23 1110.7 L669.49 1114.2 L669.76 1116.93 L670.02 1118.88 L670.29 1120.06 L670.55 1120.45" stroke-width="1.6" fill="none"/>
<path d="M662.8 616.65 L663.06 617.04 L663.33 618.22 L663.59 620.17 L663.86 622.9 L664.12 626.4 L664.38 630.65 L664.65 635.64 L664.91 641.35 L665.17 647.77 L665.44 654.88 L665.7 662.66 L665.97 671.08 L666.23 680.11 L666.49 689.73 L666.76 699.91 L667.02 710.61 L667.29 721.8 L667.55 733.45 L667.81 745.52 L668.08 757.98 L668.34 770.78 L668.6 783.88 L668.87 797.25 L669.13 810.84" stroke-width="1.6" fill="none"/>
<path d="M671.32 926.26 L671.58 939.85 L671.85 953.22 L672.11 966.32 L672.37 979.12 L672.64 991.58 L672.9 1003.65 L673.16 1015.3 L673.43 1026.49 L673.69 1037.19 L673.96 1047.37 L674.22 1056.99 L674.48 1066.02 L674.75 1074.44 L675.01 1082.22 L675.28 1089.33 L675.54 1095.75 L675.8 1101.46 L676.07 1106.45 L676.33 1110.7 L676.59 1114.2 L676.86 1116.93 L677.12 1118.88 L677.39 1120.06 L677.65 1120.45" stroke-width="1.6" fill="none"/>
<path d="M642.55 600.8 L646.05 600.8 L655.7 616.65" stroke-width="2" fill="none"/>
<path d="M648.37 761 L651.17 761 L662.03 810.84" stroke-width="2.1" fill="none"/>
<path d="M655.7 616.65 L662.8 616.65 L672.25 600.8" stroke-width="2" fill="none"/>
<path d="M662.03 810.84 L669.13 810.84 L678.07 761" stroke-width="2.1" fill="none"/>
<path d="M657.4 1136.3 L660.9 1136.3 L670.55 1120.45 L677.65 1120.45 L687.1 1136.3" stroke-width="2" fill="none"/>
<path d="M652.28 976.1 L655.08 976.1 L664.22 926.26 L671.32 926.26 L681.98 976.1" stroke-width="2.1" fill="none"/>
<path d="M672.25 600.8 L672.43 601 L672.61 601.6 L672.8 602.59 L672.98 603.98 L673.16 605.77 L673.34 607.94 L673.53 610.51 L673.71 613.45 L673.89 616.78 L674.07 620.48 L674.26 624.55 L674.44 628.99 L674.62 633.78 L674.8 638.92 L674.99 644.4 L675.17 650.22 L675.35 656.36 L675.53 662.81 L675.72 669.57 L675.92 676.63 L676.12 683.98 L676.33 691.6 L676.54 699.48 L676.75 707.61 L676.97 715.99 L677.18 724.59 L677.4 733.4 L677.62 742.42 L677.85 751.62 L678.07 761" stroke-width="1.5" fill="none"/>
<path d="M681.98 976.1 L682.12 985.48 L682.26 994.68 L682.4 1003.7 L682.55 1012.51 L682.7 1021.11 L682.85 1029.49 L683 1037.62 L683.16 1045.5 L683.31 1053.12 L683.48 1060.47 L683.64 1067.53 L683.82 1074.29 L684 1080.74 L684.18 1086.88 L684.36 1092.7 L684.55 1098.18 L684.73 1103.32 L684.91 1108.11 L685.09 1112.55 L685.28 1116.62 L685.46 1120.32 L685.64 1123.65 L685.82 1126.59 L686.01 1129.16 L686.19 1131.33 L686.37 1133.12 L686.55 1134.51 L686.74 1135.5 L686.92 1136.1 L687.1 1136.3" stroke-width="1.5" fill="none"/>
<path d="M675.75 600.8 L675.93 601 L676.11 601.6 L676.3 602.59 L676.48 603.98 L676.66 605.77 L676.84 607.94 L677.03 610.51 L677.21 613.45 L677.39 616.78 L677.57 620.48 L677.76 624.55 L677.94 628.99 L678.12 633.78 L678.3 638.92 L678.49 644.4 L678.67 650.22 L678.85 656.36 L679.03 662.81 L679.21 669.57 L679.37 676.63 L679.54 683.98 L679.69 691.6 L679.85 699.48 L680 707.61 L680.15 715.99 L680.3 724.59 L680.45 733.4 L680.59 742.42 L680.73 751.62 L680.87 761" stroke-width="2.5" fill="none"/>
<path d="M684.78 976.1 L685 985.48 L685.23 994.68 L685.45 1003.7 L685.67 1012.51 L685.88 1021.11 L686.1 1029.49 L686.31 1037.62 L686.52 1045.5 L686.73 1053.12 L686.93 1060.47 L687.13 1067.53 L687.32 1074.29 L687.5 1080.74 L687.68 1086.88 L687.86 1092.7 L688.05 1098.18 L688.23 1103.32 L688.41 1108.11 L688.59 1112.55 L688.78 1116.62 L688.96 1120.32 L689.14 1123.65 L689.32 1126.59 L689.51 1129.16 L689.69 1131.33 L689.87 1133.12 L690.05 1134.51 L690.24 1135.5 L690.42 1136.1 L690.6 1136.3" stroke-width="2.5" fill="none"/>
<path d="M685.4 616.65 L685.66 617.04 L685.93 618.22 L686.19 620.17 L686.46 622.9 L686.72 626.4 L686.98 630.65 L687.25 635.64 L687.51 641.35 L687.77 647.77 L688.04 654.88 L688.3 662.66 L688.57 671.08 L688.83 680.11 L689.09 689.73 L689.36 699.91 L689.62 710.61 L689.89 721.8 L690.15 733.45 L690.41 745.52 L690.68 757.98 L690.94 770.78 L691.2 783.88 L691.47 797.25 L691.73 810.84" stroke-width="1.6" fill="none"/>
<path d="M693.92 926.26 L694.18 939.85 L694.45 953.22 L694.71 966.32 L694.97 979.12 L695.24 991.58 L695.5 1003.65 L695.76 1015.3 L696.03 1026.49 L696.29 1037.19 L696.56 1047.37 L696.82 1056.99 L697.08 1066.02 L697.35 1074.44 L697.61 1082.22 L697.88 1089.33 L698.14 1095.75 L698.4 1101.46 L698.67 1106.45 L698.93 1110.7 L699.19 1114.2 L699.46 1116.93 L699.72 1118.88 L699.99 1120.06 L700.25 1120.45" stroke-width="1.6" fill="none"/>
<path d="M692.5 616.65 L692.76 617.04 L693.03 618.22 L693.29 620.17 L693.56 622.9 L693.82 626.4 L694.08 630.65 L694.35 635.64 L694.61 641.35 L694.87 647.77 L695.14 654.88 L695.4 662.66 L695.67 671.08 L695.93 680.11 L696.19 689.73 L696.46 699.91 L696.72 710.61 L696.99 721.8 L697.25 733.45 L697.51 745.52 L697.78 757.98 L698.04 770.78 L698.3 783.88 L698.57 797.25 L698.83 810.84" stroke-width="1.6" fill="none"/>
<path d="M701.02 926.26 L701.28 939.85 L701.55 953.22 L701.81 966.32 L702.07 979.12 L702.34 991.58 L702.6 1003.65 L702.86 1015.3 L703.13 1026.49 L703.39 1037.19 L703.66 1047.37 L703.92 1056.99 L704.18 1066.02 L704.45 1074.44 L704.71 1082.22 L704.98 1089.33 L705.24 1095.75 L705.5 1101.46 L705.77 1106.45 L706.03 1110.7 L706.29 1114.2 L706.56 1116.93 L706.82 1118.88 L707.09 1120.06 L707.35 1120.45" stroke-width="1.6" fill="none"/>
<path d="M672.25 600.8 L675.75 600.8 L685.4 616.65" stroke-width="2" fill="none"/>
<path d="M678.07 761 L680.87 761 L691.73 810.84" stroke-width="2.1" fill="none"/>
<path d="M685.4 616.65 L692.5 616.65 L701.95 600.8" stroke-width="2" fill="none"/>
<path d="M691.73 810.84 L698.83 810.84 L707.77 761" stroke-width="2.1" fill="none"/>
<path d="M687.1 1136.3 L690.6 1136.3 L700.25 1120.45 L707.35 1120.45 L716.8 1136.3" stroke-width="2" fill="none"/>
<path d="M681.98 976.1 L684.78 976.1 L693.92 926.26 L701.02 926.26 L711.68 976.1" stroke-width="2.1" fill="none"/>
<path d="M701.95 600.8 L702.13 601 L702.31 601.6 L702.5 602.59 L702.68 603.98 L702.86 605.77 L703.04 607.94 L703.23 610.51 L703.41 613.45 L703.59 616.78 L703.77 620.48 L703.96 624.55 L704.14 628.99 L704.32 633.78 L704.5 638.92 L704.69 644.4 L704.87 650.22 L705.05 656.36 L705.23 662.81 L705.42 669.57 L705.62 676.63 L705.82 683.98 L706.03 691.6 L706.24 699.48 L706.45 707.61 L706.67 715.99 L706.88 724.59 L707.1 733.4 L707.32 742.42 L707.55 751.62 L707.77 761" stroke-width="1.5" fill="none"/>
<path d="M711.68 976.1 L711.82 985.48 L711.96 994.68 L712.1 1003.7 L712.25 1012.51 L712.4 1021.11 L712.55 1029.49 L712.7 1037.62 L712.86 1045.5 L713.01 1053.12 L713.18 1060.47 L713.34 1067.53 L713.52 1074.29 L713.7 1080.74 L713.88 1086.88 L714.06 1092.7 L714.25 1098.18 L714.43 1103.32 L714.61 1108.11 L714.79 1112.55 L714.98 1116.62 L715.16 1120.32 L715.34 1123.65 L715.52 1126.59 L715.71 1129.16 L715.89 1131.33 L716.07 1133.12 L716.25 1134.51 L716.44 1135.5 L716.62 1136.1 L716.8 1136.3" stroke-width="1.5" fill="none"/>
<path d="M705.45 600.8 L705.63 601 L705.81 601.6 L706 602.59 L706.18 603.98 L706.36 605.77 L706.54 607.94 L706.73 610.51 L706.91 613.45 L707.09 616.78 L707.27 620.48 L707.46 624.55 L707.64 628.99 L707.82 633.78 L708 638.92 L708.19 644.4 L708.37 650.22 L708.55 656.36 L708.73 662.81 L708.91 669.57 L709.07 676.63 L709.24 683.98 L709.39 691.6 L709.55 699.48 L709.7 707.61 L709.85 715.99 L710 724.59 L710.15 733.4 L710.29 742.42 L710.43 751.62 L710.57 761" stroke-width="2.5" fill="none"/>
<path d="M714.48 976.1 L714.7 985.48 L714.93 994.68 L715.15 1003.7 L715.37 1012.51 L715.58 1021.11 L715.8 1029.49 L716.01 1037.62 L716.22 1045.5 L716.43 1053.12 L716.63 1060.47 L716.83 1067.53 L717.02 1074.29 L717.2 1080.74 L717.38 1086.88 L717.56 1092.7 L717.75 1098.18 L717.93 1103.32 L718.11 1108.11 L718.29 1112.55 L718.48 1116.62 L718.66 1120.32 L718.84 1123.65 L719.02 1126.59 L719.21 1129.16 L719.39 1131.33 L719.57 1133.12 L719.75 1134.51 L719.94 1135.5 L720.12 1136.1 L720.3 1136.3" stroke-width="2.5" fill="none"/>
<path d="M715.1 616.65 L715.36 617.04 L715.63 618.22 L715.89 620.17 L716.16 622.9 L716.42 626.4 L716.68 630.65 L716.95 635.64 L717.21 641.35 L717.47 647.77 L717.74 654.88 L718 662.66 L718.27 671.08 L718.53 680.11 L718.79 689.73 L719.06 699.91 L719.32 710.61 L719.59 721.8 L719.85 733.45 L720.11 745.52 L720.38 757.98 L720.64 770.78 L720.9 783.88 L721.17 797.25 L721.43 810.84" stroke-width="1.6" fill="none"/>
<path d="M723.62 926.26 L723.88 939.85 L724.15 953.22 L724.41 966.32 L724.67 979.12 L724.94 991.58 L725.2 1003.65 L725.46 1015.3 L725.73 1026.49 L725.99 1037.19 L726.26 1047.37 L726.52 1056.99 L726.78 1066.02 L727.05 1074.44 L727.31 1082.22 L727.58 1089.33 L727.84 1095.75 L728.1 1101.46 L728.37 1106.45 L728.63 1110.7 L728.89 1114.2 L729.16 1116.93 L729.42 1118.88 L729.69 1120.06 L729.95 1120.45" stroke-width="1.6" fill="none"/>
<path d="M722.2 616.65 L722.46 617.04 L722.73 618.22 L722.99 620.17 L723.26 622.9 L723.52 626.4 L723.78 630.65 L724.05 635.64 L724.31 641.35 L724.57 647.77 L724.84 654.88 L725.1 662.66 L725.37 671.08 L725.63 680.11 L725.89 689.73 L726.16 699.91 L726.42 710.61 L726.69 721.8 L726.95 733.45 L727.21 745.52 L727.48 757.98 L727.74 770.78 L728 783.88 L728.27 797.25 L728.53 810.84" stroke-width="1.6" fill="none"/>
<path d="M730.72 926.26 L730.98 939.85 L731.25 953.22 L731.51 966.32 L731.77 979.12 L732.04 991.58 L732.3 1003.65 L732.56 1015.3 L732.83 1026.49 L733.09 1037.19 L733.36 1047.37 L733.62 1056.99 L733.88 1066.02 L734.15 1074.44 L734.41 1082.22 L734.68 1089.33 L734.94 1095.75 L735.2 1101.46 L735.47 1106.45 L735.73 1110.7 L735.99 1114.2 L736.26 1116.93 L736.52 1118.88 L736.79 1120.06 L737.05 1120.45" stroke-width="1.6" fill="none"/>
<path d="M701.95 600.8 L705.45 600.8 L715.1 616.65" stroke-width="2" fill="none"/>
<path d="M707.77 761 L710.57 761 L721.43 810.84" stroke-width="2.1" fill="none"/>
<path d="M715.1 616.65 L722.2 616.65 L731.65 600.8" stroke-width="2" fill="none"/>
<path d="M721.43 810.84 L728.53 810.84 L737.47 761" stroke-width="2.1" fill="none"/>
<path d="M716.8 1136.3 L720.3 1136.3 L729.95 1120.45 L737.05 1120.45 L746.5 1136.3" stroke-width="2" fill="none"/>
<path d="M711.68 976.1 L714.48 976.1 L723.62 926.26 L730.72 926.26 L741.38 976.1" stroke-width="2.1" fill="none"/>
<path d="M731.65 600.8 L731.83 601 L732.01 601.6 L732.2 602.59 L732.38 603.98 L732.56 605.77 L732.74 607.94 L732.93 610.51 L733.11 613.45 L733.29 616.78 L733.47 620.48 L733.66 624.55 L733.84 628.99 L734.02 633.78 L734.2 638.92 L734.39 644.4 L734.57 650.22 L734.75 656.36 L734.93 662.81 L735.12 669.57 L735.32 676.63 L735.52 683.98 L735.73 691.6 L735.94 699.48 L736.15 707.61 L736.37 715.99 L736.58 724.59 L736.8 733.4 L737.02 742.42 L737.25 751.62 L737.47 761" stroke-width="1.5" fill="none"/>
<path d="M741.38 976.1 L741.52 985.48 L741.66 994.68 L741.8 1003.7 L741.95 1012.51 L742.1 1021.11 L742.25 1029.49 L742.4 1037.62 L742.56 1045.5 L742.71 1053.12 L742.88 1060.47 L743.04 1067.53 L743.22 1074.29 L743.4 1080.74 L743.58 1086.88 L743.76 1092.7 L743.95 1098.18 L744.13 1103.32 L744.31 1108.11 L744.49 1112.55 L744.68 1116.62 L744.86 1120.32 L745.04 1123.65 L745.22 1126.59 L745.41 1129.16 L745.59 1131.33 L745.77 1133.12 L745.95 1134.51 L746.14 1135.5 L746.32 1136.1 L746.5 1136.3" stroke-width="1.5" fill="none"/>
<path d="M735.15 600.8 L735.33 601 L735.51 601.6 L735.7 602.59 L735.88 603.98 L736.06 605.77 L736.24 607.94 L736.43 610.51 L736.61 613.45 L736.79 616.78 L736.97 620.48 L737.16 624.55 L737.34 628.99 L737.52 633.78 L737.7 638.92 L737.89 644.4 L738.07 650.22 L738.25 656.36 L738.43 662.81 L738.61 669.57 L738.77 676.63 L738.94 683.98 L739.09 691.6 L739.25 699.48 L739.4 707.61 L739.55 715.99 L739.7 724.59 L739.85 733.4 L739.99 742.42 L740.13 751.62 L740.27 761" stroke-width="2.5" fill="none"/>
<path d="M744.18 976.1 L744.4 985.48 L744.63 994.68 L744.85 1003.7 L745.07 1012.51 L745.28 1021.11 L745.5 1029.49 L745.71 1037.62 L745.92 1045.5 L746.13 1053.12 L746.33 1060.47 L746.53 1067.53 L746.72 1074.29 L746.9 1080.74 L747.08 1086.88 L747.26 1092.7 L747.45 1098.18 L747.63 1103.32 L747.81 1108.11 L747.99 1112.55 L748.18 1116.62 L748.36 1120.32 L748.54 1123.65 L748.72 1126.59 L748.91 1129.16 L749.09 1131.33 L749.27 1133.12 L749.45 1134.51 L749.64 1135.5 L749.82 1136.1 L750 1136.3" stroke-width="2.5" fill="none"/>
<path d="M744.8 616.65 L745.06 617.04 L745.33 618.22 L745.59 620.17 L745.86 622.9 L746.12 626.4 L746.38 630.65 L746.65 635.64 L746.91 641.35 L747.17 647.77 L747.44 654.88 L747.7 662.66 L747.97 671.08 L748.23 680.11 L748.49 689.73 L748.76 699.91 L749.02 710.61 L749.29 721.8 L749.55 733.45 L749.81 745.52 L750.08 757.98 L750.34 770.78 L750.6 783.88 L750.87 797.25 L751.13 810.84" stroke-width="1.6" fill="none"/>
<path d="M753.32 926.26 L753.58 939.85 L753.85 953.22 L754.11 966.32 L754.37 979.12 L754.64 991.58 L754.9 1003.65 L755.16 1015.3 L755.43 1026.49 L755.69 1037.19 L755.96 1047.37 L756.22 1056.99 L756.48 1066.02 L756.75 1074.44 L757.01 1082.22 L757.28 1089.33 L757.54 1095.75 L757.8 1101.46 L758.07 1106.45 L758.33 1110.7 L758.59 1114.2 L758.86 1116.93 L759.12 1118.88 L759.39 1120.06 L759.65 1120.45" stroke-width="1.6" fill="none"/>
<path d="M751.9 616.65 L752.16 617.04 L752.43 618.22 L752.69 620.17 L752.96 622.9 L753.22 626.4 L753.48 630.65 L753.75 635.64 L754.01 641.35 L754.27 647.77 L754.54 654.88 L754.8 662.66 L755.07 671.08 L755.33 680.11 L755.59 689.73 L755.86 699.91 L756.12 710.61 L756.39 721.8 L756.65 733.45 L756.91 745.52 L757.18 757.98 L757.44 770.78 L757.7 783.88 L757.97 797.25 L758.23 810.84" stroke-width="1.6" fill="none"/>
<path d="M760.42 926.26 L760.68 939.85 L760.95 953.22 L761.21 966.32 L761.47 979.12 L761.74 991.58 L762 1003.65 L762.26 1015.3 L762.53 1026.49 L762.79 1037.19 L763.06 1047.37 L763.32 1056.99 L763.58 1066.02 L763.85 1074.44 L764.11 1082.22 L764.38 1089.33 L764.64 1095.75 L764.9 1101.46 L765.17 1106.45 L765.43 1110.7 L765.69 1114.2 L765.96 1116.93 L766.22 1118.88 L766.49 1120.06 L766.75 1120.45" stroke-width="1.6" fill="none"/>
<path d="M731.65 600.8 L735.15 600.8 L744.8 616.65" stroke-width="2" fill="none"/>
<path d="M737.47 761 L740.27 761 L751.13 810.84" stroke-width="2.1" fill="none"/>
<path d="M744.8 616.65 L751.9 616.65 L761.35 600.8" stroke-width="2" fill="none"/>
<path d="M751.13 810.84 L758.23 810.84 L767.17 761" stroke-width="2.1" fill="none"/>
<path d="M746.5 1136.3 L750 1136.3 L759.65 1120.45 L766.75 1120.45 L776.2 1136.3" stroke-width="2" fill="none"/>
<path d="M741.38 976.1 L744.18 976.1 L753.32 926.26 L760.42 926.26 L771.08 976.1" stroke-width="2.1" fill="none"/>
<path d="M761.35 600.8 L761.53 601 L761.71 601.6 L761.9 602.59 L762.08 603.98 L762.26 605.77 L762.44 607.94 L762.63 610.51 L762.81 613.45 L762.99 616.78 L763.17 620.48 L763.36 624.55 L763.54 628.99 L763.72 633.78 L763.9 638.92 L764.09 644.4 L764.27 650.22 L764.45 656.36 L764.63 662.81 L764.82 669.57 L765.02 676.63 L765.22 683.98 L765.43 691.6 L765.64 699.48 L765.85 707.61 L766.07 715.99 L766.28 724.59 L766.5 733.4 L766.72 742.42 L766.95 751.62 L767.17 761" stroke-width="1.5" fill="none"/>
<path d="M771.08 976.1 L771.22 985.48 L771.36 994.68 L771.5 1003.7 L771.65 1012.51 L771.8 1021.11 L771.95 1029.49 L772.1 1037.62 L772.26 1045.5 L772.41 1053.12 L772.58 1060.47 L772.74 1067.53 L772.92 1074.29 L773.1 1080.74 L773.28 1086.88 L773.46 1092.7 L773.65 1098.18 L773.83 1103.32 L774.01 1108.11 L774.19 1112.55 L774.38 1116.62 L774.56 1120.32 L774.74 1123.65 L774.92 1126.59 L775.11 1129.16 L775.29 1131.33 L775.47 1133.12 L775.65 1134.51 L775.84 1135.5 L776.02 1136.1 L776.2 1136.3" stroke-width="1.5" fill="none"/>
<path d="M764.85 600.8 L765.03 601 L765.21 601.6 L765.4 602.59 L765.58 603.98 L765.76 605.77 L765.94 607.94 L766.13 610.51 L766.31 613.45 L766.49 616.78 L766.67 620.48 L766.86 624.55 L767.04 628.99 L767.22 633.78 L767.4 638.92 L767.59 644.4 L767.77 650.22 L767.95 656.36 L768.13 662.81 L768.31 669.57 L768.47 676.63 L768.64 683.98 L768.79 691.6 L768.95 699.48 L769.1 707.61 L769.25 715.99 L769.4 724.59 L769.55 733.4 L769.69 742.42 L769.83 751.62 L769.97 761" stroke-width="2.5" fill="none"/>
<path d="M773.88 976.1 L774.1 985.48 L774.33 994.68 L774.55 1003.7 L774.77 1012.51 L774.98 1021.11 L775.2 1029.49 L775.41 1037.62 L775.62 1045.5 L775.83 1053.12 L776.03 1060.47 L776.23 1067.53 L776.42 1074.29 L776.6 1080.74 L776.78 1086.88 L776.96 1092.7 L777.15 1098.18 L777.33 1103.32 L777.51 1108.11 L777.69 1112.55 L777.88 1116.62 L778.06 1120.32 L778.24 1123.65 L778.42 1126.59 L778.61 1129.16 L778.79 1131.33 L778.97 1133.12 L779.15 1134.51 L779.34 1135.5 L779.52 1136.1 L779.7 1136.3" stroke-width="2.5" fill="none"/>
<path d="M774.5 616.65 L774.76 617.04 L775.03 618.22 L775.29 620.17 L775.56 622.9 L775.82 626.4 L776.08 630.65 L776.35 635.64 L776.61 641.35 L776.87 647.77 L777.14 654.88 L777.4 662.66 L777.67 671.08 L777.93 680.11 L778.19 689.73 L778.46 699.91 L778.72 710.61 L778.99 721.8 L779.25 733.45 L779.51 745.52 L779.78 757.98 L780.04 770.78 L780.3 783.88 L780.57 797.25 L780.83 810.84" stroke-width="1.6" fill="none"/>
<path d="M783.02 926.26 L783.28 939.85 L783.55 953.22 L783.81 966.32 L784.07 979.12 L784.34 991.58 L784.6 1003.65 L784.86 1015.3 L785.13 1026.49 L785.39 1037.19 L785.66 1047.37 L785.92 1056.99 L786.18 1066.02 L786.45 1074.44 L786.71 1082.22 L786.98 1089.33 L787.24 1095.75 L787.5 1101.46 L787.77 1106.45 L788.03 1110.7 L788.29 1114.2 L788.56 1116.93 L788.82 1118.88 L789.09 1120.06 L789.35 1120.45" stroke-width="1.6" fill="none"/>
<path d="M781.6 616.65 L781.86 617.04 L782.13 618.22 L782.39 620.17 L782.66 622.9 L782.92 626.4 L783.18 630.65 L783.45 635.64 L783.71 641.35 L783.97 647.77 L784.24 654.88 L784.5 662.66 L784.77 671.08 L785.03 680.11 L785.29 689.73 L785.56 699.91 L785.82 710.61 L786.09 721.8 L786.35 733.45 L786.61 745.52 L786.88 757.98 L787.14 770.78 L787.4 783.88 L787.67 797.25 L787.93 810.84" stroke-width="1.6" fill="none"/>
<path d="M790.12 926.26 L790.38 939.85 L790.65 953.22 L790.91 966.32 L791.17 979.12 L791.44 991.58 L791.7 1003.65 L791.96 1015.3 L792.23 1026.49 L792.49 1037.19 L792.76 1047.37 L793.02 1056.99 L793.28 1066.02 L793.55 1074.44 L793.81 1082.22 L794.08 1089.33 L794.34 1095.75 L794.6 1101.46 L794.87 1106.45 L795.13 1110.7 L795.39 1114.2 L795.66 1116.93 L795.92 1118.88 L796.19 1120.06 L796.45 1120.45" stroke-width="1.6" fill="none"/>
<path d="M761.35 600.8 L764.85 600.8 L774.5 616.65" stroke-width="2" fill="none"/>
<path d="M767.17 761 L769.97 761 L780.83 810.84" stroke-width="2.1" fill="none"/>
<path d="M774.5 616.65 L781.6 616.65 L791.05 600.8" stroke-width="2" fill="none"/>
<path d="M780.83 810.84 L787.93 810.84 L796.87 761" stroke-width="2.1" fill="none"/>
<path d="M776.2 1136.3 L779.7 1136.3 L789.35 1120.45 L796.45 1120.45 L805.9 1136.3" stroke-width="2" fill="none"/>
<path d="M771.08 976.1 L773.88 976.1 L783.02 926.26 L790.12 926.26 L800.78 976.1" stroke-width="2.1" fill="none"/>
</g>
<path d="M383.3 610 L383.44 610.33 L383.58 611.3 L383.73 612.92 L383.87 615.19 L384.01 618.09 L384.15 621.62 L384.29 625.78 L384.43 630.54 L384.57 635.9 L384.72 641.85 L384.86 648.37 L385 655.44 L385.14 663.05 L385.28 671.18 L385.43 679.8 L385.57 688.9 L385.71 698.45 L385.85 708.42 L385.99 718.8 L386.13 729.56 L386.28 740.67 L386.42 752.09 L386.56 763.82 L386.7 775.8" stroke-width="1.8" fill="none"/>
<path d="M376.9 616.7 L383.3 610 L388 616.65" stroke-width="2.2" fill="none"/>
<path d="M377.3 800.5 L386.7 775.8 L394.73 810.84" stroke-width="2.3" fill="none"/>
<path d="M377.4 1050 Q380.5 1100 389.3 1134.8" stroke-width="1.6" fill="none"/>
<line x1="376.8" y1="616.5" x2="376.8" y2="1120.3" stroke-width="2.1"/>
<line x1="378.7" y1="800" x2="378.7" y2="932" stroke-width="1.2"/>
<line x1="717.3" y1="616.7" x2="717.3" y2="1120.4" stroke-width="1.6"/>
<path d="M483.3 512 L567.3 512 L569.6 514.3 L569.6 1222.8 L567.3 1225.1 L483.3 1225.1 L435.6 1195.9 L435.6 541.2 Z" stroke-width="0" fill="#fff" stroke="none"/>
<path d="M483.3 512 L566.8 512 Q569.6 512 569.6 515" stroke-width="2.05" fill="none"/>
<path d="M483.3 512 L436.6 540.3 L436.2 542.5" stroke-width="2.05" fill="none"/>
<line x1="483.6" y1="511.5" x2="483.6" y2="540.5" stroke-width="3.1"/>
<line x1="483.6" y1="539.3" x2="569.3" y2="539.3" stroke-width="1.75"/>
<line x1="483.6" y1="542.6" x2="569.3" y2="542.6" stroke-width="1.75"/>
<path d="M484.2 539.8 L437.6 563.3" stroke-width="1.75" fill="none"/>
<path d="M484.2 542.9 L441.5 565.5" stroke-width="1.75" fill="none"/>
<line x1="440" y1="565.8" x2="569.3" y2="565.8" stroke-width="1.75"/>
<line x1="437" y1="573.3" x2="569.3" y2="573.3" stroke-width="2.05"/>
<line x1="441.8" y1="565.8" x2="441.8" y2="573.3" stroke-width="1.3"/>
<line x1="566.6" y1="565.8" x2="566.6" y2="573.3" stroke-width="1.3"/>
<line x1="438.6" y1="563.5" x2="438.6" y2="573.3" stroke-width="1.3"/>
<line x1="483.3" y1="585.8" x2="569.3" y2="585.8" stroke-width="2.05"/>
<path d="M483.3 585.8 L436.8 610.8" stroke-width="2.05" fill="none"/>
<line x1="483.6" y1="585.3" x2="483.6" y2="821" stroke-width="3.1"/>
<line x1="437" y1="820.8" x2="569.3" y2="820.8" stroke-width="2.05"/>
<line x1="440" y1="824.3" x2="569.3" y2="824.3" stroke-width="1.75"/>
<line x1="440" y1="830" x2="569.3" y2="830" stroke-width="2.05"/>
<line x1="441.8" y1="824.3" x2="441.8" y2="830" stroke-width="1.3"/>
<line x1="566.6" y1="824.3" x2="566.6" y2="830" stroke-width="1.3"/>
<path d="M483.3 1225.1 L566.8 1225.1 Q569.6 1225.1 569.6 1222.1" stroke-width="2.05" fill="none"/>
<path d="M483.3 1225.1 L436.6 1196.8 L436.2 1194.6" stroke-width="2.05" fill="none"/>
<line x1="483.6" y1="1225.6" x2="483.6" y2="1196.6" stroke-width="3.1"/>
<line x1="483.6" y1="1197.8" x2="569.3" y2="1197.8" stroke-width="1.75"/>
<line x1="483.6" y1="1194.5" x2="569.3" y2="1194.5" stroke-width="1.75"/>
<path d="M484.2 1197.3 L437.6 1173.8" stroke-width="1.75" fill="none"/>
<path d="M484.2 1194.2 L441.5 1171.6" stroke-width="1.75" fill="none"/>
<line x1="440" y1="1171.3" x2="569.3" y2="1171.3" stroke-width="1.75"/>
<line x1="437" y1="1163.8" x2="569.3" y2="1163.8" stroke-width="2.05"/>
<line x1="441.8" y1="1171.3" x2="441.8" y2="1163.8" stroke-width="1.3"/>
<line x1="566.6" y1="1171.3" x2="566.6" y2="1163.8" stroke-width="1.3"/>
<line x1="438.6" y1="1173.6" x2="438.6" y2="1163.8" stroke-width="1.3"/>
<line x1="483.3" y1="1151.3" x2="569.3" y2="1151.3" stroke-width="2.05"/>
<path d="M483.3 1151.3 L436.8 1126.3" stroke-width="2.05" fill="none"/>
<line x1="483.6" y1="1151.8" x2="483.6" y2="916.1" stroke-width="3.1"/>
<line x1="437" y1="916.3" x2="569.3" y2="916.3" stroke-width="2.05"/>
<line x1="440" y1="912.8" x2="569.3" y2="912.8" stroke-width="1.75"/>
<line x1="440" y1="907.1" x2="569.3" y2="907.1" stroke-width="2.05"/>
<line x1="441.8" y1="912.8" x2="441.8" y2="907.1" stroke-width="1.3"/>
<line x1="566.6" y1="912.8" x2="566.6" y2="907.1" stroke-width="1.3"/>
<line x1="436.5" y1="541.5" x2="436.5" y2="1195.6" stroke-width="2.3"/>
<line x1="439.3" y1="573.3" x2="439.3" y2="1163.8" stroke-width="1.1"/>
<line x1="566.9" y1="513" x2="566.9" y2="1224.1" stroke-width="1.5"/>
<line x1="569.8" y1="514.5" x2="569.8" y2="1222.6" stroke-width="1.6"/>
<path d="M449.2 535.7 L468.8 521.4 L468.8 535.2 L456 541.3 L452.4 542.2 L449.6 540 Z" stroke-width="0.5" fill="#000"/>
<ellipse cx="446.2" cy="544.8" rx="2.9" ry="1.4" transform="rotate(-27 446.2 544.8)" stroke-width="1.2" fill="none"/>
<line x1="448.3" y1="543.6" x2="451.5" y2="541" stroke-width="1.3"/>
<path d="M607 590 L622 590 L622 600 L625.4 617.3 L607 617.3 Z" stroke-width="0" fill="#fff" stroke="none"/>
<path d="M607 548.7 L621.6 599 L619.2 600.3 L607 570 Z" stroke-width="0" fill="#fff" stroke="none"/>
<path d="M607 630 L621.9 669.4 L608.1 738.1 L620.6 758.1 L607 856 Z" stroke-width="0" fill="#fff" stroke="none"/>
<path d="M607 865.6 L621 870 L608.1 976.5 L621.9 980 L607 996 Z" stroke-width="0" fill="#fff" stroke="none"/>
<path d="M607 1065.2 L621.5 1070.3 L611.3 1120.6 L620.1 1125 L622.3 1135.9 L607 1186 Z" stroke-width="0" fill="#fff" stroke="none"/>
<path d="M607 548.9 L621.7 599.3 L619 600.5 L607.3 568.4" stroke-width="1.65" fill="none"/>
<path d="M619 600.5 L625.5 616.4" stroke-width="1.65" fill="none"/>
<path d="M607 630 L621.9 669.4" stroke-width="1.65" fill="none"/>
<path d="M621.6 611.3 L612.8 640.2 L615.8 648" stroke-width="1.6" fill="none"/>
<line x1="620.2" y1="618" x2="620.9" y2="668" stroke-width="2.6"/>
<path d="M621.9 669.4 L608.1 738.1 L620.6 758.1 L607.4 855.5" stroke-width="1.65" fill="none"/>
<path d="M619 690 L617.5 752" stroke-width="1.2" fill="none"/>
<path d="M607.4 865.6 L621 870 L608.1 976.3" stroke-width="1.65" fill="none"/>
<path d="M608.1 976.5 L621.9 980 L607.4 995.5" stroke-width="1.65" fill="none"/>
<path d="M621.9 980 L612.5 1030 L608 1062" stroke-width="1.65" fill="none"/>
<path d="M621.9 980 L607.4 1012" stroke-width="1.3" fill="none"/>
<path d="M612.6 932.5 L621.7 973" stroke-width="1.4" fill="none"/>
<path d="M612.6 932.5 L611.5 977" stroke-width="1.2" fill="none"/>
<path d="M607.5 1065.2 L621.5 1070.3 L607.5 1101.6" stroke-width="1.65" fill="none"/>
<path d="M621.5 1070.3 L611.3 1120.6" stroke-width="1.65" fill="none"/>
<path d="M616 1036 L609 1064" stroke-width="1.3" fill="none"/>
<path d="M609.9 1120.6 L620.1 1125" stroke-width="1.85" fill="none"/>
<path d="M610 1123 L618.5 1128 L622.3 1135.9 L607.5 1185.5" stroke-width="1.65" fill="none"/>
<path d="M619.6 1133.5 L607.5 1164.5" stroke-width="1.65" fill="none"/>
<path d="M592 1216.2 L592 521 Q592 519 594 519 L605.1 519 Q607.1 519 607.1 521 L607.1 1216.2 Q607.1 1218.2 605.1 1218.2 L594 1218.2 Q592 1218.2 592 1216.2 Z" stroke-width="2" fill="#fff"/>
<line x1="594.8" y1="520" x2="594.8" y2="1217.2" stroke-width="1.6"/>
<line x1="604" y1="520" x2="604" y2="1217.2" stroke-width="1.6"/>
<path d="M718.7 541.7 L778 541.7 L866.9 630 L1031.3 630 L1045.3 644.2 L1045.3 1091.8 L1031.3 1105.7 L866.9 1105.7 L779 1195.4 L718.7 1195.4 Z" stroke-width="0" fill="#fff" stroke="none"/>
<path d="M718.7 1193.4 L718.7 543.7 Q718.7 541.7 720.7 541.7 L776.5 541.7 L778.6 542.5 L866.9 630.5 L1030.6 630.5 L1045 644.8" stroke-width="1.85" fill="none"/>
<path d="M718.7 1193.4 Q718.7 1195.4 720.7 1195.4 L777 1195.4 L779 1194.6 L866.9 1106 L1030.6 1106 L1045 1091.6" stroke-width="1.85" fill="none"/>
<line x1="721.7" y1="542.7" x2="721.7" y2="1194.4" stroke-width="1.3"/>
<line x1="775.5" y1="541.7" x2="775.5" y2="731.5" stroke-width="1.4"/>
<line x1="779.8" y1="542.2" x2="779.8" y2="731.5" stroke-width="1.5"/>
<line x1="775.5" y1="1003.8" x2="775.5" y2="1195.4" stroke-width="1.4"/>
<line x1="779.8" y1="1004.3" x2="779.8" y2="1195.4" stroke-width="1.5"/>
<line x1="718.7" y1="731.2" x2="776" y2="731.2" stroke-width="1.65"/>
<line x1="718.7" y1="733.7" x2="775.6" y2="733.7" stroke-width="1.3"/>
<line x1="718.7" y1="1003.6" x2="775.6" y2="1003.6" stroke-width="1.3"/>
<line x1="718.7" y1="1006" x2="776" y2="1006" stroke-width="1.65"/>
<path d="M775.6 733.7 L779.4 731.5" stroke-width="1.3" fill="none"/>
<path d="M775.6 1003.6 L779.4 1005.7" stroke-width="1.3" fill="none"/>
<path d="M779.4 731.5 A 320 320 0 0 1 779.4 1005.7" stroke-width="1.65" fill="none"/>
<path d="M775.6 733.7 A 320 320 0 0 1 775.6 1003.6" stroke-width="1.65" fill="none"/>
<line x1="867.2" y1="630.5" x2="867.2" y2="1105.7" stroke-width="1.85"/>
<line x1="1028" y1="630.5" x2="1028" y2="1105.7" stroke-width="1.4"/>
<line x1="1032.6" y1="631.5" x2="1032.6" y2="1104.5" stroke-width="1.4"/>
<line x1="1044.8" y1="644" x2="1044.8" y2="1092" stroke-width="2.9"/>
<path d="M1045.3 690.7 L1060.3 690.7 L1060.3 706.5" stroke-width="1.9" fill="none"/>
<line x1="1051.3" y1="690.7" x2="1051.3" y2="707" stroke-width="1.4"/>
<path d="M1045.3 707.3 Q1055 707.6 1060.3 706" stroke-width="1.4" fill="none"/>
<path d="M1060.4 705.7 L1128.5 705.7 Q1135.1 705.7 1135.1 712.4 L1135.1 1025.1 Q1135.1 1031.8 1128.5 1031.8 L1045.3 1031.8" stroke-width="1.8" fill="none"/>
<line x1="1128.6" y1="705.7" x2="1128.6" y2="1031.8" stroke-width="1.4"/>
<path d="M1135.2 747.8 L1179 747.8 C1190 749.5 1203 759.5 1230.5 762.1 L1230.5 818.9 L1135.2 818.9" stroke-width="1.8" fill="none"/>
<path d="M1179 747.8 C1178.38 748.83 1175.8 751.27 1175.3 754 C1174.8 756.73 1174.9 760.08 1176 764.2 C1177.1 768.33 1178.98 774.13 1181.9 778.75 C1184.82 783.37 1188.65 788.26 1193.5 791.9 C1198.35 795.54 1205.03 798.62 1211 800.6 C1216.97 802.58 1226.25 803.27 1229.3 803.8" stroke-width="1.5" fill="none"/>
<path d="M1229.3 770.4 C1226.5 769.97 1217.73 768.83 1212.5 767.8 C1207.27 766.77 1201.78 765.1 1197.9 764.2 C1194.02 763.3 1191.38 762.28 1189.2 762.4 C1187.02 762.52 1185.42 763.38 1184.8 764.9 C1184.18 766.42 1184.53 768.95 1185.5 771.5 C1186.47 774.05 1188.05 777.28 1190.6 780.2 C1193.15 783.12 1196.67 786.68 1200.8 789 C1204.93 791.32 1210.65 793.08 1215.4 794.1 C1220.15 795.12 1226.98 794.93 1229.3 795.1" stroke-width="1.5" fill="none"/>
<line x1="1229.2" y1="762.1" x2="1229.2" y2="804" stroke-width="1.2"/>
<path d="M1135.2 832.7 L1264.3 832.7 A59.7 59.7 0 0 0 1319 868.4 L1319.4 868.4 L1319.4 904.6 L1230.5 904.6" stroke-width="1.8" fill="none"/>
<path d="M1135.2 865.5 L1230.5 865.5 L1230.5 936.6" stroke-width="1.8" fill="none"/>
<line x1="1135.2" y1="937.2" x2="1230.5" y2="937.2" stroke-width="2.4"/>
<path d="M1229.3 866.3 C1226.5 866.53 1217.73 866.73 1212.5 867.7 C1207.27 868.67 1202.52 869.92 1197.9 872.1 C1193.28 874.28 1188.2 876.92 1184.8 880.8 C1181.4 884.68 1179.08 890.53 1177.5 895.4 C1175.92 900.27 1175.3 905.13 1175.3 910 C1175.3 914.87 1176.17 920.58 1177.5 924.6 C1178.83 928.62 1180.63 932.15 1183.3 934.1 C1185.97 936.05 1188.63 935.98 1193.5 936.3 C1198.37 936.62 1206.53 936.2 1212.5 936 C1218.47 935.8 1226.5 935.25 1229.3 935.1" stroke-width="1.5" fill="none"/>
<path d="M1229.3 881.3 C1226.5 881.52 1217.73 881.83 1212.5 882.6 C1207.27 883.37 1202.03 884 1197.9 885.9 C1193.77 887.8 1190 890.72 1187.7 894 C1185.4 897.28 1184.22 901.97 1184.1 905.6 C1183.98 909.23 1185.18 913.25 1187 915.8 C1188.82 918.35 1191.72 919.92 1195 920.9 C1198.28 921.88 1200.98 921.82 1206.7 921.7 C1212.42 921.58 1225.53 920.45 1229.3 920.2" stroke-width="1.5" fill="none"/>
<line x1="1229.2" y1="866.3" x2="1229.2" y2="936" stroke-width="1.2"/>
<path d="M1230.5 937.5 L1230.5 974 A60.8 60.8 0 0 0 1175 1009.7 L1135.2 1009.7" stroke-width="1.8" fill="none"/>
<line x1="375.4" y1="99" x2="375.4" y2="611.5" stroke-width="1.6"/>
<line x1="1230.5" y1="99" x2="1230.5" y2="762" stroke-width="1.6"/>
<line x1="1135.4" y1="202" x2="1135.4" y2="704" stroke-width="1.6"/>
<line x1="718.2" y1="310" x2="718.2" y2="541" stroke-width="1.6"/>
<line x1="435.3" y1="431" x2="435.3" y2="536.5" stroke-width="1.6"/>
<line x1="570.3" y1="431" x2="570.3" y2="513" stroke-width="1.6"/>
<line x1="375.4" y1="121" x2="1230.5" y2="121" stroke-width="1.6"/>
<path d="M375.6 121 L436.6 113.1 L436.6 128.9 Z" stroke-width="0" fill="#000" stroke="none"/>
<path d="M1230.3 121 L1169.3 128.9 L1169.3 113.1 Z" stroke-width="0" fill="#000" stroke="none"/>
<line x1="375.4" y1="232.7" x2="1135.4" y2="232.7" stroke-width="1.6"/>
<path d="M375.6 232.7 L436.6 224.8 L436.6 240.6 Z" stroke-width="0" fill="#000" stroke="none"/>
<path d="M1134 232.7 L1073 240.6 L1073 224.8 Z" stroke-width="0" fill="#000" stroke="none"/>
<line x1="375.4" y1="340" x2="718.2" y2="340" stroke-width="1.6"/>
<path d="M375.6 340 L436.6 332.1 L436.6 347.9 Z" stroke-width="0" fill="#000" stroke="none"/>
<path d="M718 340 L657 347.9 L657 332.1 Z" stroke-width="0" fill="#000" stroke="none"/>
<line x1="435.3" y1="461.4" x2="712.5" y2="461.4" stroke-width="1.6"/>
<path d="M435.5 461.4 L496.5 453.5 L496.5 469.3 Z" stroke-width="0" fill="#000" stroke="none"/>
<path d="M570.1 461.4 L509.1 469.3 L509.1 453.5 Z" stroke-width="0" fill="#000" stroke="none"/>
<line x1="154.5" y1="511.6" x2="469.3" y2="511.6" stroke-width="1.6"/>
<line x1="154.5" y1="1225.3" x2="469.3" y2="1225.3" stroke-width="1.6"/>
<line x1="177.3" y1="511.6" x2="177.3" y2="1225.3" stroke-width="1.6"/>
<path d="M177.3 511.8 L185.5 572.3 L169.1 572.3 Z" stroke-width="0" fill="#000" stroke="none"/>
<path d="M177.3 1225.1 L169.1 1164.6 L185.5 1164.6 Z" stroke-width="0" fill="#000" stroke="none"/>
<line x1="263" y1="600.7" x2="408.3" y2="600.7" stroke-width="1.6"/>
<line x1="263" y1="1136.2" x2="392.5" y2="1136.2" stroke-width="1.6"/>
<line x1="293.1" y1="600.7" x2="293.1" y2="1136.2" stroke-width="1.6"/>
<path d="M293.1 600.9 L301.3 661.4 L284.9 661.4 Z" stroke-width="0" fill="#000" stroke="none"/>
<path d="M293.1 1136 L284.9 1075.5 L301.3 1075.5 Z" stroke-width="0" fill="#000" stroke="none"/>
<line x1="607" y1="1226.5" x2="607" y2="1376.7" stroke-width="1.6"/>
<line x1="718.8" y1="1203.5" x2="718.8" y2="1376.7" stroke-width="1.6"/>
<line x1="507.3" y1="1361.7" x2="1051" y2="1361.7" stroke-width="1.6"/>
<path d="M606.8 1361.7 L530.8 1371.3 L530.8 1352.1 Z" stroke-width="0" fill="#000" stroke="none"/>
<path d="M719 1361.7 L798 1352.1 L798 1371.3 Z" stroke-width="0" fill="#000" stroke="none"/>
<line x1="882.8" y1="453.3" x2="975" y2="453.3" stroke-width="1.4"/>
<line x1="882.8" y1="453.3" x2="768.1" y2="863.5" stroke-width="1.3"/>
<circle cx="768.1" cy="863.5" r="8" fill="#000" stroke="none"/>
<line x1="337.8" y1="1359.1" x2="453.3" y2="1359.1" stroke-width="1.4"/>
<line x1="453.1" y1="1359.1" x2="668" y2="867.5" stroke-width="1.3"/>
<circle cx="668.7" cy="867.5" r="8" fill="#000" stroke="none"/>
<text x="0" y="0" font-size="45" text-anchor="middle" stroke="none" fill="#000" transform="translate(774 107.2) scale(1.04 1)">30.7 Max</text>
<text x="0" y="0" font-size="45" text-anchor="middle" stroke="none" fill="#000" transform="translate(743.5 218.7) scale(1.06 1)">25.8</text>
<text x="0" y="0" font-size="45" text-anchor="middle" stroke="none" fill="#000" transform="translate(533.6 327.5) scale(1.06 1)">12</text>
<text x="0" y="0" font-size="45" text-anchor="middle" stroke="none" fill="#000" transform="translate(633 449.6) scale(1.06 1)">4.50</text>
<text x="0" y="0" font-size="45" text-anchor="middle" stroke="none" fill="#000" transform="translate(926.2 440.5) scale(1.01 1)">20</text>
<text x="0" y="0" font-size="45" text-anchor="middle" stroke="none" fill="#000" transform="translate(377.6 1347) scale(1.03 1)">16.5</text>
<text x="0" y="0" font-size="45" text-anchor="middle" stroke="none" fill="#000" transform="translate(910.5 1345.4) scale(1.02 1)">5 Max</text>
<text x="0" y="0" font-size="45" text-anchor="middle" stroke="none" fill="#000" transform="translate(163 841) rotate(-90) scale(1 1)">24</text>
<text x="0" y="0" font-size="45" text-anchor="middle" stroke="none" fill="#000" transform="translate(279.2 863.5) rotate(-90) scale(1.01 1)">M18x1.0</text>
<circle cx="147.6" cy="894.2" r="16.0" fill="none" stroke-width="1.7"/>
<line x1="123.8" y1="884.7" x2="171.2" y2="903.7" stroke-width="1.5"/>
<text x="509.5" y="897" font-size="57" fill="#feeeee" stroke="none" textLength="240" lengthAdjust="spacingAndGlyphs" style="mix-blend-mode:multiply">Lightany</text>
</svg>
</body></html>
